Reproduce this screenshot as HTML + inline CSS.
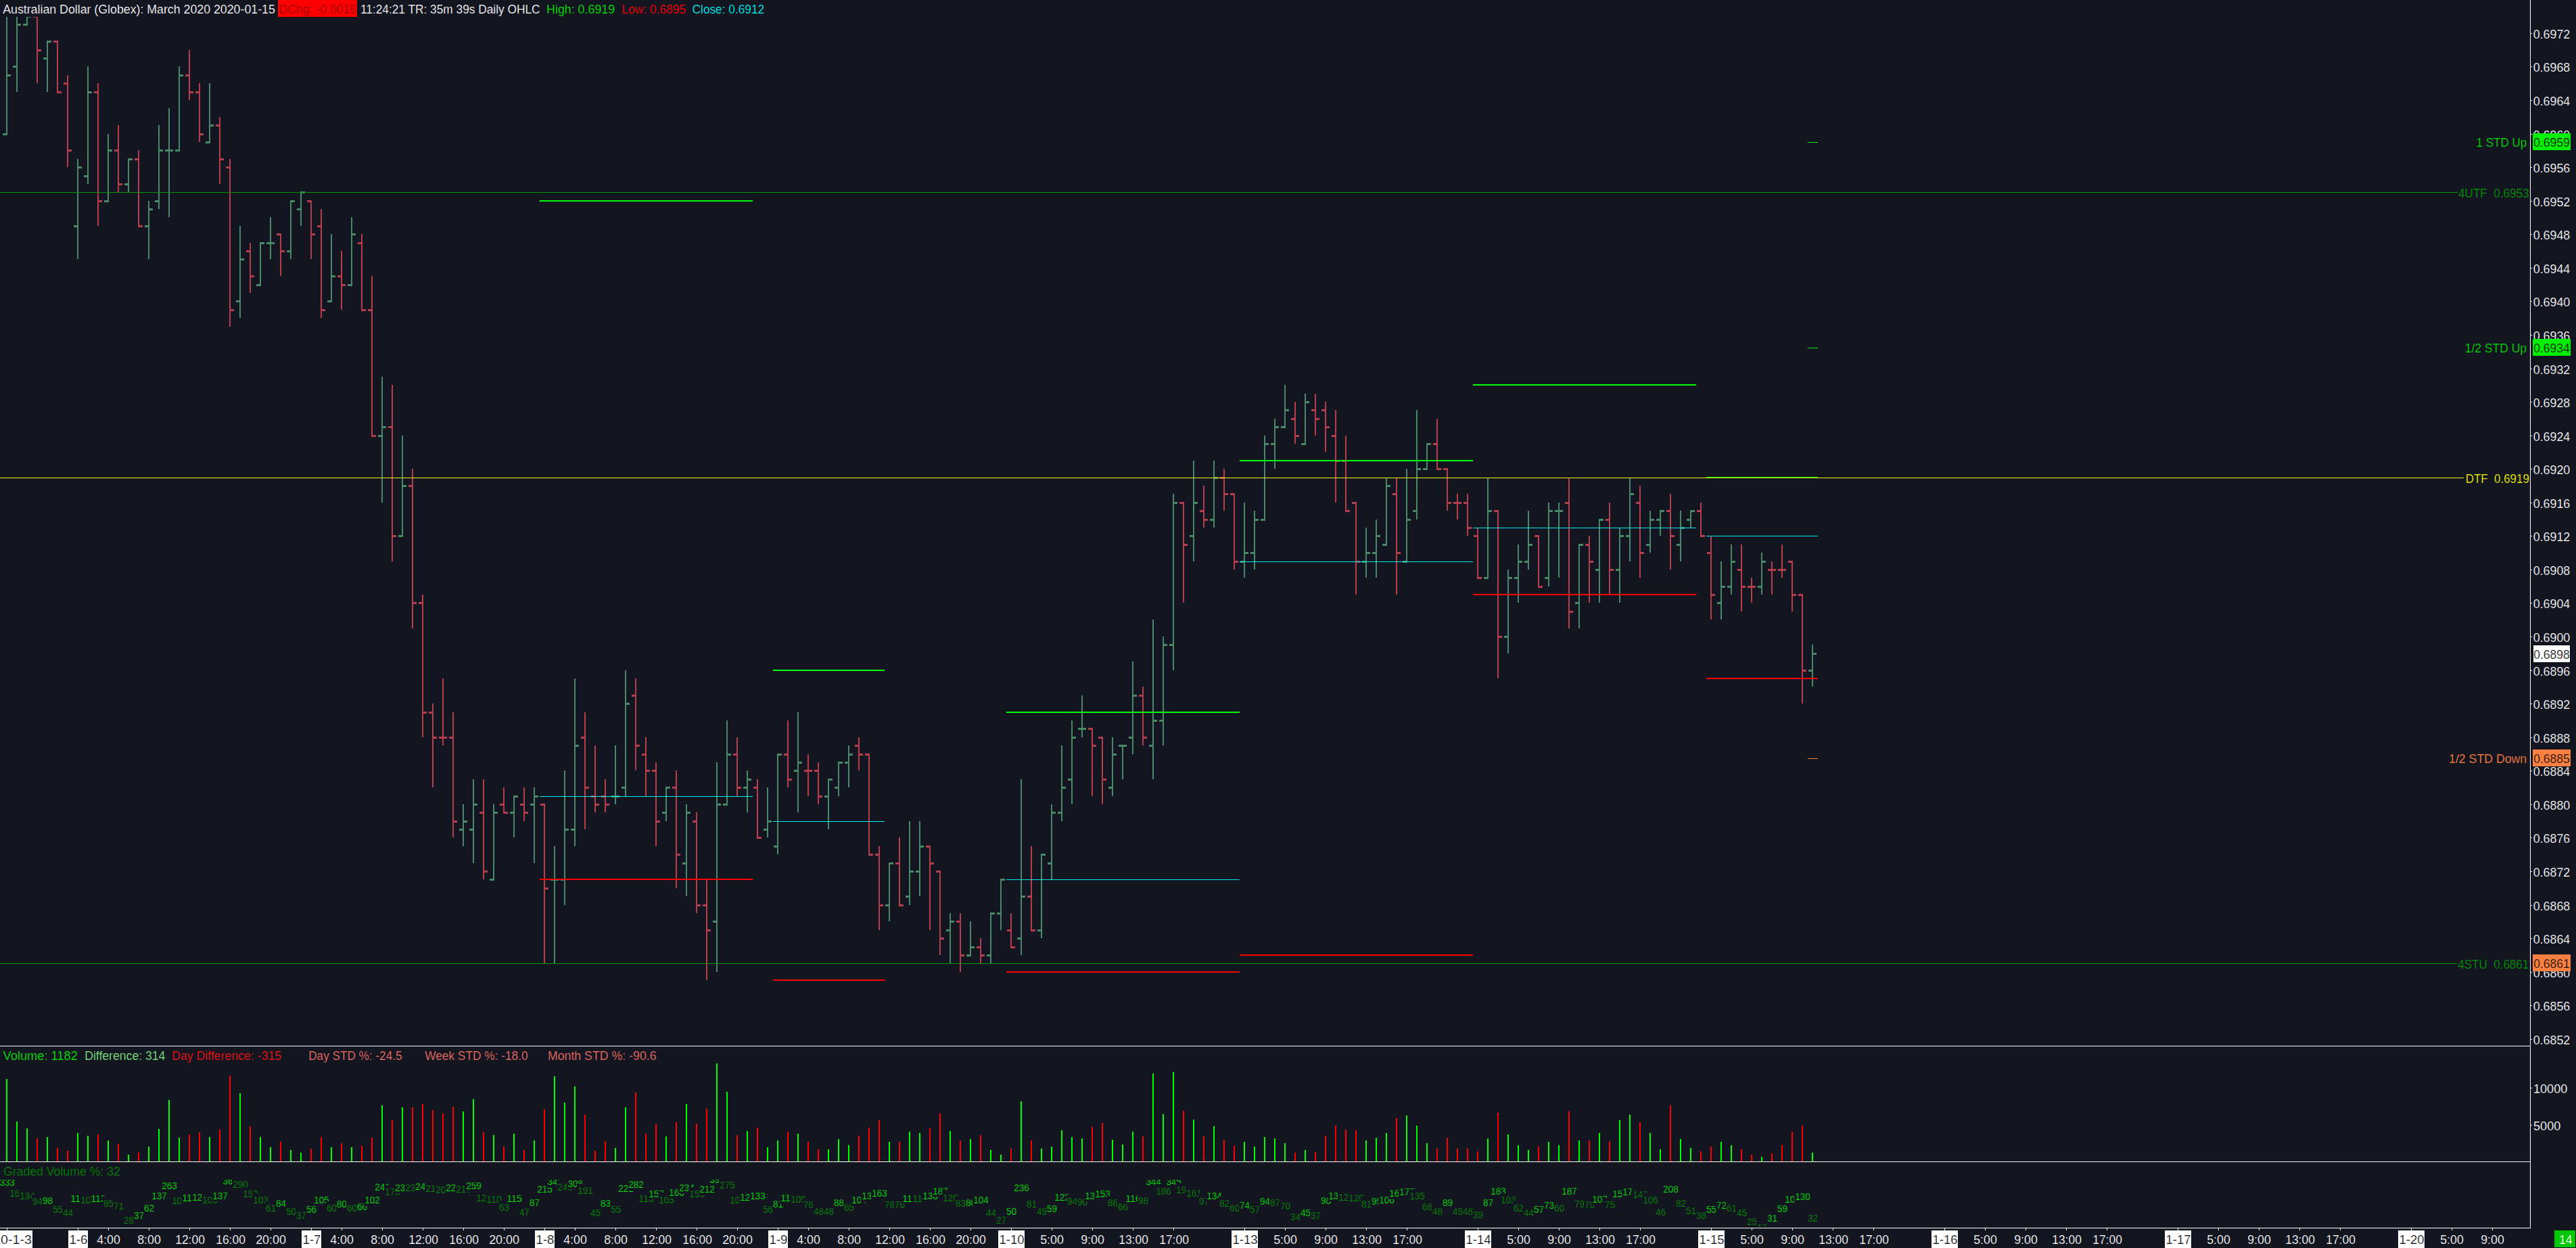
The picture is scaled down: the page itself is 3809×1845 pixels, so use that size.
<!DOCTYPE html><html><head><meta charset="utf-8"><title>chart</title><style>html,body{margin:0;padding:0;background:#131521;overflow:hidden}svg text{white-space:pre}</style></head><body><svg width="3809" height="1845" viewBox="0 0 3809 1845" font-family="Liberation Sans, sans-serif" shape-rendering="crispEdges" style="display:block">
<defs><clipPath id="cp"><rect x="0" y="25" width="3741" height="1521"/></clipPath><clipPath id="cg"><rect x="0" y="1744" width="3741" height="70"/></clipPath></defs>
<rect x="0" y="0" width="3809" height="1845" fill="#131521"/>
<g clip-path="url(#cp)">
<path d="M9 -1h2V198h-2zM4 197h7v3h-7zM9 110h7v3h-7zM24 -1h2V136h-2zM19 97h7v3h-7zM24 35h7v3h-7zM39 24h2V36h-2zM34 35h7v3h-7zM39 23h7v3h-7zM69 61h2V136h-2zM64 85h7v3h-7zM69 60h7v3h-7zM114 235h2V383h-2zM109 333h7v3h-7zM114 246h7v3h-7zM129 98h2V272h-2zM124 259h7v3h-7zM129 135h7v3h-7zM159 198h2V297h-2zM154 296h7v3h-7zM159 221h7v3h-7zM189 235h2V284h-2zM184 271h7v3h-7zM189 234h7v3h-7zM219 297h2V383h-2zM214 333h7v3h-7zM219 308h7v3h-7zM234 185h2V309h-2zM229 296h7v3h-7zM234 221h7v3h-7zM249 160h2V321h-2zM244 221h7v3h-7zM249 221h7v3h-7zM264 98h2V222h-2zM259 221h7v3h-7zM264 110h7v3h-7zM309 123h2V210h-2zM304 209h7v3h-7zM309 184h7v3h-7zM354 334h2V470h-2zM349 444h7v3h-7zM354 382h7v3h-7zM384 359h2V421h-2zM379 420h7v3h-7zM384 358h7v3h-7zM399 321h2V383h-2zM394 358h7v3h-7zM399 358h7v3h-7zM429 297h2V383h-2zM424 370h7v3h-7zM429 296h7v3h-7zM444 284h2V334h-2zM439 308h7v3h-7zM444 283h7v3h-7zM489 346h2V445h-2zM484 444h7v3h-7zM489 407h7v3h-7zM519 321h2V421h-2zM514 420h7v3h-7zM519 345h7v3h-7zM564 557h2V743h-2zM559 643h7v3h-7zM564 630h7v3h-7zM594 644h2V792h-2zM589 791h7v3h-7zM594 717h7v3h-7zM684 1189h2V1251h-2zM679 1225h7v3h-7zM684 1213h7v3h-7zM699 1152h2V1276h-2zM694 1225h7v3h-7zM699 1188h7v3h-7zM729 1189h2V1300h-2zM724 1299h7v3h-7zM729 1200h7v3h-7zM759 1177h2V1238h-2zM754 1200h7v3h-7zM759 1176h7v3h-7zM789 1164h2V1276h-2zM784 1188h7v3h-7zM789 1176h7v3h-7zM819 1251h2V1424h-2zM814 1299h7v3h-7zM819 1299h7v3h-7zM834 1139h2V1338h-2zM829 1299h7v3h-7zM834 1225h7v3h-7zM849 1003h2V1251h-2zM844 1225h7v3h-7zM849 1101h7v3h-7zM909 1102h2V1189h-2zM904 1176h7v3h-7zM909 1176h7v3h-7zM924 991h2V1177h-2zM919 1163h7v3h-7zM924 1039h7v3h-7zM984 1164h2V1214h-2zM979 1200h7v3h-7zM984 1163h7v3h-7zM1014 1189h2V1325h-2zM1009 1275h7v3h-7zM1014 1200h7v3h-7zM1059 1127h2V1437h-2zM1054 1361h7v3h-7zM1059 1188h7v3h-7zM1074 1065h2V1189h-2zM1069 1188h7v3h-7zM1074 1114h7v3h-7zM1104 1139h2V1201h-2zM1099 1163h7v3h-7zM1104 1151h7v3h-7zM1134 1164h2V1238h-2zM1129 1225h7v3h-7zM1134 1213h7v3h-7zM1149 1115h2V1263h-2zM1144 1250h7v3h-7zM1149 1114h7v3h-7zM1179 1053h2V1201h-2zM1174 1138h7v3h-7zM1179 1126h7v3h-7zM1224 1152h2V1226h-2zM1219 1176h7v3h-7zM1224 1151h7v3h-7zM1239 1127h2V1177h-2zM1234 1163h7v3h-7zM1239 1126h7v3h-7zM1254 1102h2V1164h-2zM1249 1126h7v3h-7zM1254 1114h7v3h-7zM1314 1276h2V1362h-2zM1309 1337h7v3h-7zM1314 1275h7v3h-7zM1344 1214h2V1338h-2zM1339 1324h7v3h-7zM1344 1287h7v3h-7zM1359 1214h2V1325h-2zM1354 1287h7v3h-7zM1359 1250h7v3h-7zM1404 1350h2V1424h-2zM1399 1374h7v3h-7zM1404 1361h7v3h-7zM1434 1362h2V1412h-2zM1429 1411h7v3h-7zM1434 1399h7v3h-7zM1464 1350h2V1424h-2zM1459 1411h7v3h-7zM1464 1349h7v3h-7zM1479 1300h2V1375h-2zM1474 1349h7v3h-7zM1479 1299h7v3h-7zM1509 1152h2V1412h-2zM1504 1386h7v3h-7zM1509 1324h7v3h-7zM1539 1263h2V1387h-2zM1534 1374h7v3h-7zM1539 1262h7v3h-7zM1554 1189h2V1300h-2zM1549 1275h7v3h-7zM1554 1200h7v3h-7zM1569 1102h2V1214h-2zM1564 1200h7v3h-7zM1569 1163h7v3h-7zM1584 1065h2V1189h-2zM1579 1151h7v3h-7zM1584 1089h7v3h-7zM1599 1028h2V1090h-2zM1594 1076h7v3h-7zM1599 1076h7v3h-7zM1644 1090h2V1177h-2zM1639 1163h7v3h-7zM1644 1114h7v3h-7zM1659 1102h2V1152h-2zM1654 1101h7v3h-7zM1659 1101h7v3h-7zM1674 978h2V1115h-2zM1669 1089h7v3h-7zM1674 1027h7v3h-7zM1704 916h2V1152h-2zM1699 1101h7v3h-7zM1704 1064h7v3h-7zM1719 941h2V1102h-2zM1714 1064h7v3h-7zM1719 952h7v3h-7zM1734 730h2V991h-2zM1729 952h7v3h-7zM1734 742h7v3h-7zM1764 681h2V830h-2zM1759 791h7v3h-7zM1764 742h7v3h-7zM1794 681h2V780h-2zM1789 767h7v3h-7zM1794 705h7v3h-7zM1839 743h2V854h-2zM1834 829h7v3h-7zM1839 816h7v3h-7zM1854 755h2V842h-2zM1849 816h7v3h-7zM1854 767h7v3h-7zM1869 644h2V768h-2zM1864 767h7v3h-7zM1869 655h7v3h-7zM1884 619h2V693h-2zM1879 655h7v3h-7zM1884 630h7v3h-7zM1899 569h2V631h-2zM1894 630h7v3h-7zM1899 605h7v3h-7zM1929 582h2V656h-2zM1924 655h7v3h-7zM1929 593h7v3h-7zM2019 780h2V854h-2zM2014 829h7v3h-7zM2019 816h7v3h-7zM2034 768h2V854h-2zM2029 816h7v3h-7zM2034 791h7v3h-7zM2049 706h2V805h-2zM2044 804h7v3h-7zM2049 717h7v3h-7zM2079 693h2V830h-2zM2074 829h7v3h-7zM2079 767h7v3h-7zM2094 606h2V768h-2zM2089 754h7v3h-7zM2094 692h7v3h-7zM2109 656h2V693h-2zM2104 692h7v3h-7zM2109 655h7v3h-7zM2199 706h2V854h-2zM2194 853h7v3h-7zM2199 754h7v3h-7zM2229 842h2V966h-2zM2224 940h7v3h-7zM2229 853h7v3h-7zM2244 805h2V891h-2zM2239 853h7v3h-7zM2244 829h7v3h-7zM2259 755h2V842h-2zM2254 829h7v3h-7zM2259 804h7v3h-7zM2289 743h2V867h-2zM2284 853h7v3h-7zM2289 754h7v3h-7zM2304 743h2V854h-2zM2299 754h7v3h-7zM2304 754h7v3h-7zM2334 805h2V929h-2zM2329 890h7v3h-7zM2334 804h7v3h-7zM2364 768h2V891h-2zM2359 841h7v3h-7zM2364 767h7v3h-7zM2394 780h2V891h-2zM2389 841h7v3h-7zM2394 791h7v3h-7zM2409 706h2V830h-2zM2404 791h7v3h-7zM2409 729h7v3h-7zM2439 755h2V817h-2zM2434 804h7v3h-7zM2439 767h7v3h-7zM2454 755h2V792h-2zM2449 767h7v3h-7zM2454 754h7v3h-7zM2484 755h2V830h-2zM2479 804h7v3h-7zM2484 779h7v3h-7zM2499 755h2V780h-2zM2494 767h7v3h-7zM2499 754h7v3h-7zM2544 830h2V916h-2zM2539 890h7v3h-7zM2544 866h7v3h-7zM2559 805h2V879h-2zM2554 866h7v3h-7zM2559 829h7v3h-7zM2604 817h2V879h-2zM2599 866h7v3h-7zM2604 829h7v3h-7zM2679 953h2V1015h-2zM2674 990h7v3h-7zM2679 965h7v3h-7z" fill="#488968"/>
<path d="M54 24h2V123h-2zM49 23h7v3h-7zM54 73h7v3h-7zM84 61h2V136h-2zM79 60h7v3h-7zM84 135h7v3h-7zM99 111h2V247h-2zM94 122h7v3h-7zM99 221h7v3h-7zM144 123h2V334h-2zM139 135h7v3h-7zM144 296h7v3h-7zM174 185h2V284h-2zM169 221h7v3h-7zM174 271h7v3h-7zM204 222h2V334h-2zM199 234h7v3h-7zM204 333h7v3h-7zM279 74h2V148h-2zM274 110h7v3h-7zM279 135h7v3h-7zM294 123h2V210h-2zM289 135h7v3h-7zM294 197h7v3h-7zM324 173h2V272h-2zM319 184h7v3h-7zM324 234h7v3h-7zM339 235h2V483h-2zM334 246h7v3h-7zM339 457h7v3h-7zM369 359h2V433h-2zM364 370h7v3h-7zM369 407h7v3h-7zM414 346h2V408h-2zM409 345h7v3h-7zM414 370h7v3h-7zM459 297h2V383h-2zM454 296h7v3h-7zM459 345h7v3h-7zM474 309h2V470h-2zM469 333h7v3h-7zM474 457h7v3h-7zM504 371h2V458h-2zM499 407h7v3h-7zM504 420h7v3h-7zM534 346h2V458h-2zM529 358h7v3h-7zM534 457h7v3h-7zM549 408h2V644h-2zM544 457h7v3h-7zM549 643h7v3h-7zM579 569h2V830h-2zM574 630h7v3h-7zM579 791h7v3h-7zM609 693h2V929h-2zM604 717h7v3h-7zM609 890h7v3h-7zM624 879h2V1090h-2zM619 890h7v3h-7zM624 1052h7v3h-7zM639 1040h2V1164h-2zM634 1052h7v3h-7zM639 1089h7v3h-7zM654 1003h2V1102h-2zM649 1089h7v3h-7zM654 1089h7v3h-7zM669 1053h2V1238h-2zM664 1089h7v3h-7zM669 1213h7v3h-7zM714 1152h2V1300h-2zM709 1200h7v3h-7zM714 1287h7v3h-7zM744 1164h2V1201h-2zM739 1188h7v3h-7zM744 1200h7v3h-7zM774 1164h2V1214h-2zM769 1188h7v3h-7zM774 1200h7v3h-7zM804 1189h2V1424h-2zM799 1188h7v3h-7zM804 1312h7v3h-7zM864 1053h2V1226h-2zM859 1089h7v3h-7zM864 1163h7v3h-7zM879 1102h2V1201h-2zM874 1176h7v3h-7zM879 1188h7v3h-7zM894 1152h2V1201h-2zM889 1176h7v3h-7zM894 1188h7v3h-7zM939 1003h2V1139h-2zM934 1027h7v3h-7zM939 1101h7v3h-7zM954 1090h2V1177h-2zM949 1114h7v3h-7zM954 1138h7v3h-7zM969 1127h2V1251h-2zM964 1138h7v3h-7zM969 1213h7v3h-7zM999 1139h2V1313h-2zM994 1163h7v3h-7zM999 1262h7v3h-7zM1029 1201h2V1350h-2zM1024 1213h7v3h-7zM1029 1337h7v3h-7zM1044 1300h2V1449h-2zM1039 1337h7v3h-7zM1044 1374h7v3h-7zM1089 1090h2V1177h-2zM1084 1114h7v3h-7zM1089 1163h7v3h-7zM1119 1152h2V1238h-2zM1114 1163h7v3h-7zM1119 1237h7v3h-7zM1164 1065h2V1164h-2zM1159 1114h7v3h-7zM1164 1151h7v3h-7zM1194 1115h2V1177h-2zM1189 1138h7v3h-7zM1194 1138h7v3h-7zM1209 1127h2V1189h-2zM1204 1138h7v3h-7zM1209 1176h7v3h-7zM1269 1090h2V1139h-2zM1264 1101h7v3h-7zM1269 1114h7v3h-7zM1284 1115h2V1263h-2zM1279 1114h7v3h-7zM1284 1262h7v3h-7zM1299 1251h2V1375h-2zM1294 1262h7v3h-7zM1299 1337h7v3h-7zM1329 1238h2V1338h-2zM1324 1275h7v3h-7zM1329 1337h7v3h-7zM1374 1251h2V1375h-2zM1369 1250h7v3h-7zM1374 1275h7v3h-7zM1389 1288h2V1412h-2zM1384 1287h7v3h-7zM1389 1386h7v3h-7zM1419 1350h2V1437h-2zM1414 1361h7v3h-7zM1419 1411h7v3h-7zM1449 1387h2V1424h-2zM1444 1399h7v3h-7zM1449 1411h7v3h-7zM1494 1350h2V1400h-2zM1489 1374h7v3h-7zM1494 1399h7v3h-7zM1524 1251h2V1375h-2zM1519 1324h7v3h-7zM1524 1374h7v3h-7zM1614 1077h2V1177h-2zM1609 1076h7v3h-7zM1614 1101h7v3h-7zM1629 1090h2V1189h-2zM1624 1089h7v3h-7zM1629 1151h7v3h-7zM1689 1015h2V1102h-2zM1684 1027h7v3h-7zM1689 1089h7v3h-7zM1749 743h2V891h-2zM1744 742h7v3h-7zM1749 804h7v3h-7zM1779 718h2V780h-2zM1774 754h7v3h-7zM1779 767h7v3h-7zM1809 693h2V755h-2zM1804 705h7v3h-7zM1809 729h7v3h-7zM1824 730h2V842h-2zM1819 729h7v3h-7zM1824 829h7v3h-7zM1914 594h2V656h-2zM1909 618h7v3h-7zM1914 643h7v3h-7zM1944 582h2V644h-2zM1939 605h7v3h-7zM1944 618h7v3h-7zM1959 594h2V668h-2zM1954 605h7v3h-7zM1959 630h7v3h-7zM1974 606h2V743h-2zM1969 643h7v3h-7zM1974 680h7v3h-7zM1989 644h2V755h-2zM1984 680h7v3h-7zM1989 754h7v3h-7zM2004 743h2V879h-2zM1999 742h7v3h-7zM2004 829h7v3h-7zM2064 706h2V879h-2zM2059 729h7v3h-7zM2064 816h7v3h-7zM2124 619h2V693h-2zM2119 655h7v3h-7zM2124 692h7v3h-7zM2139 693h2V755h-2zM2134 692h7v3h-7zM2139 742h7v3h-7zM2154 730h2V768h-2zM2149 742h7v3h-7zM2154 742h7v3h-7zM2169 730h2V792h-2zM2164 742h7v3h-7zM2169 779h7v3h-7zM2184 780h2V854h-2zM2179 791h7v3h-7zM2184 853h7v3h-7zM2214 755h2V1003h-2zM2209 754h7v3h-7zM2214 940h7v3h-7zM2274 792h2V867h-2zM2269 791h7v3h-7zM2274 866h7v3h-7zM2319 706h2V929h-2zM2314 742h7v3h-7zM2319 903h7v3h-7zM2349 792h2V891h-2zM2344 804h7v3h-7zM2349 829h7v3h-7zM2379 743h2V879h-2zM2374 767h7v3h-7zM2379 841h7v3h-7zM2424 718h2V854h-2zM2419 742h7v3h-7zM2424 816h7v3h-7zM2469 730h2V842h-2zM2464 754h7v3h-7zM2469 791h7v3h-7zM2514 743h2V792h-2zM2509 754h7v3h-7zM2514 791h7v3h-7zM2529 792h2V916h-2zM2524 816h7v3h-7zM2529 878h7v3h-7zM2574 805h2V904h-2zM2569 841h7v3h-7zM2574 866h7v3h-7zM2589 854h2V891h-2zM2584 866h7v3h-7zM2589 866h7v3h-7zM2619 830h2V879h-2zM2614 841h7v3h-7zM2619 841h7v3h-7zM2634 805h2V854h-2zM2629 841h7v3h-7zM2634 841h7v3h-7zM2649 830h2V904h-2zM2644 829h7v3h-7zM2649 878h7v3h-7zM2664 879h2V1040h-2zM2659 878h7v3h-7zM2664 990h7v3h-7z" fill="#b63e4c"/>
<rect x="798" y="296" width="315" height="2" fill="#00ff00"/>
<rect x="798" y="1177" width="315" height="1" fill="#00f0f0"/>
<rect x="798" y="1299" width="315" height="2" fill="#ff0000"/>
<rect x="1143" y="990" width="165" height="2" fill="#00ff00"/>
<rect x="1143" y="1214" width="165" height="1" fill="#00f0f0"/>
<rect x="1143" y="1448" width="165" height="2" fill="#ff0000"/>
<rect x="1488" y="1052" width="345" height="2" fill="#00ff00"/>
<rect x="1488" y="1300" width="345" height="1" fill="#00f0f0"/>
<rect x="1488" y="1436" width="345" height="2" fill="#ff0000"/>
<rect x="1833" y="680" width="345" height="2" fill="#00ff00"/>
<rect x="1833" y="830" width="345" height="1" fill="#00f0f0"/>
<rect x="1833" y="1411" width="345" height="2" fill="#ff0000"/>
<rect x="2178" y="568" width="330" height="2" fill="#00ff00"/>
<rect x="2178" y="780" width="330" height="1" fill="#00f0f0"/>
<rect x="2178" y="878" width="330" height="2" fill="#ff0000"/>
<rect x="2523" y="705" width="165" height="2" fill="#00ff00"/>
<rect x="2523" y="792" width="165" height="1" fill="#00f0f0"/>
<rect x="2523" y="1002" width="165" height="2" fill="#ff0000"/>
<rect x="0" y="284" width="3634" height="1" fill="#009600"/>
<rect x="0" y="1424" width="3634" height="1" fill="#009600"/>
<rect x="0" y="706" width="3643" height="1" fill="#f4f400"/>
<rect x="2673" y="210" width="15" height="1" fill="#00f000"/>
<rect x="2673" y="514" width="15" height="1" fill="#00f000"/>
<rect x="2673" y="1121" width="15" height="1" fill="#ff8040"/>
</g>
<text x="4.2" y="20.0" font-size="19" fill="#fff" textLength="402.6" lengthAdjust="spacingAndGlyphs" stroke="#131521" stroke-width="0.2">Australian Dollar (Globex): March 2020 2020-01-15</text>
<rect x="411" y="0" width="117" height="25" fill="#ff0000"/>
<text x="412.6" y="20.0" font-size="19" fill="#960000" textLength="114.6" lengthAdjust="spacingAndGlyphs" stroke="#ff0000" stroke-width="0.2">DChg: -0.0016</text>
<text x="532.9" y="20.0" font-size="19" fill="#fff" textLength="265.6" lengthAdjust="spacingAndGlyphs" stroke="#131521" stroke-width="0.2">11:24:21 TR: 35m 39s Daily OHLC</text>
<text x="808.1" y="20.0" font-size="19" fill="#00e600" textLength="101.0" lengthAdjust="spacingAndGlyphs" stroke="#131521" stroke-width="0.2">High: 0.6919</text>
<text x="919.6" y="20.0" font-size="19" fill="#ff0000" textLength="94.6" lengthAdjust="spacingAndGlyphs" stroke="#131521" stroke-width="0.2">Low: 0.6895</text>
<text x="1023.6" y="20.0" font-size="19" fill="#00f0f0" textLength="106.5" lengthAdjust="spacingAndGlyphs" stroke="#131521" stroke-width="0.2">Close: 0.6912</text>
<text x="3661.5" y="217.0" font-size="19" fill="#00dc00" textLength="74.7" lengthAdjust="spacingAndGlyphs" stroke="#131521" stroke-width="0.2">1 STD Up</text>
<text x="3635.1" y="292.0" font-size="19" fill="#009600" textLength="104.4" lengthAdjust="spacingAndGlyphs" stroke="#131521" stroke-width="0.2">4UTF  0.6953</text>
<text x="3644.7" y="521.0" font-size="19" fill="#00dc00" textLength="91.4" lengthAdjust="spacingAndGlyphs" stroke="#131521" stroke-width="0.2">1/2 STD Up</text>
<text x="3645.8" y="714.0" font-size="19" fill="#f4f400" textLength="94.0" lengthAdjust="spacingAndGlyphs" stroke="#131521" stroke-width="0.2">DTF  0.6919</text>
<text x="3621.1" y="1127.7" font-size="19" fill="#ff8040" textLength="115.1" lengthAdjust="spacingAndGlyphs" stroke="#131521" stroke-width="0.2">1/2 STD Down</text>
<text x="3634.2" y="1431.5" font-size="19" fill="#009600" textLength="105.1" lengthAdjust="spacingAndGlyphs" stroke="#131521" stroke-width="0.2">4STU  0.6861</text>
<rect x="3741" y="0" width="1" height="1816" fill="#fff"/>
<rect x="0" y="1546" width="3741" height="1" fill="#fff"/>
<rect x="0" y="1717" width="3741" height="1" fill="#fff"/>
<rect x="0" y="1815" width="3741" height="1" fill="#fff"/>
<rect x="3742" y="49" width="2" height="1" fill="#fff"/>
<text x="3745.7" y="57.0" font-size="19" fill="#fff" textLength="54.6" lengthAdjust="spacingAndGlyphs" stroke="#131521" stroke-width="0.2">0.6972</text>
<rect x="3742" y="98" width="2" height="1" fill="#fff"/>
<text x="3745.7" y="106.0" font-size="19" fill="#fff" textLength="54.6" lengthAdjust="spacingAndGlyphs" stroke="#131521" stroke-width="0.2">0.6968</text>
<rect x="3742" y="148" width="2" height="1" fill="#fff"/>
<text x="3745.7" y="156.0" font-size="19" fill="#fff" textLength="54.6" lengthAdjust="spacingAndGlyphs" stroke="#131521" stroke-width="0.2">0.6964</text>
<rect x="3742" y="198" width="2" height="1" fill="#fff"/>
<text x="3745.7" y="206.0" font-size="19" fill="#fff" textLength="54.6" lengthAdjust="spacingAndGlyphs" stroke="#131521" stroke-width="0.2">0.6960</text>
<rect x="3742" y="247" width="2" height="1" fill="#fff"/>
<text x="3745.7" y="255.0" font-size="19" fill="#fff" textLength="54.6" lengthAdjust="spacingAndGlyphs" stroke="#131521" stroke-width="0.2">0.6956</text>
<rect x="3742" y="297" width="2" height="1" fill="#fff"/>
<text x="3745.7" y="305.0" font-size="19" fill="#fff" textLength="54.6" lengthAdjust="spacingAndGlyphs" stroke="#131521" stroke-width="0.2">0.6952</text>
<rect x="3742" y="346" width="2" height="1" fill="#fff"/>
<text x="3745.7" y="354.0" font-size="19" fill="#fff" textLength="54.6" lengthAdjust="spacingAndGlyphs" stroke="#131521" stroke-width="0.2">0.6948</text>
<rect x="3742" y="396" width="2" height="1" fill="#fff"/>
<text x="3745.7" y="404.0" font-size="19" fill="#fff" textLength="54.6" lengthAdjust="spacingAndGlyphs" stroke="#131521" stroke-width="0.2">0.6944</text>
<rect x="3742" y="445" width="2" height="1" fill="#fff"/>
<text x="3745.7" y="453.0" font-size="19" fill="#fff" textLength="54.6" lengthAdjust="spacingAndGlyphs" stroke="#131521" stroke-width="0.2">0.6940</text>
<rect x="3742" y="495" width="2" height="1" fill="#fff"/>
<text x="3745.7" y="503.0" font-size="19" fill="#fff" textLength="54.6" lengthAdjust="spacingAndGlyphs" stroke="#131521" stroke-width="0.2">0.6936</text>
<rect x="3742" y="545" width="2" height="1" fill="#fff"/>
<text x="3745.7" y="553.0" font-size="19" fill="#fff" textLength="54.6" lengthAdjust="spacingAndGlyphs" stroke="#131521" stroke-width="0.2">0.6932</text>
<rect x="3742" y="594" width="2" height="1" fill="#fff"/>
<text x="3745.7" y="602.0" font-size="19" fill="#fff" textLength="54.6" lengthAdjust="spacingAndGlyphs" stroke="#131521" stroke-width="0.2">0.6928</text>
<rect x="3742" y="644" width="2" height="1" fill="#fff"/>
<text x="3745.7" y="652.0" font-size="19" fill="#fff" textLength="54.6" lengthAdjust="spacingAndGlyphs" stroke="#131521" stroke-width="0.2">0.6924</text>
<rect x="3742" y="693" width="2" height="1" fill="#fff"/>
<text x="3745.7" y="701.0" font-size="19" fill="#fff" textLength="54.6" lengthAdjust="spacingAndGlyphs" stroke="#131521" stroke-width="0.2">0.6920</text>
<rect x="3742" y="743" width="2" height="1" fill="#fff"/>
<text x="3745.7" y="751.0" font-size="19" fill="#fff" textLength="54.6" lengthAdjust="spacingAndGlyphs" stroke="#131521" stroke-width="0.2">0.6916</text>
<rect x="3742" y="792" width="2" height="1" fill="#fff"/>
<text x="3745.7" y="800.0" font-size="19" fill="#fff" textLength="54.6" lengthAdjust="spacingAndGlyphs" stroke="#131521" stroke-width="0.2">0.6912</text>
<rect x="3742" y="842" width="2" height="1" fill="#fff"/>
<text x="3745.7" y="850.0" font-size="19" fill="#fff" textLength="54.6" lengthAdjust="spacingAndGlyphs" stroke="#131521" stroke-width="0.2">0.6908</text>
<rect x="3742" y="891" width="2" height="1" fill="#fff"/>
<text x="3745.7" y="899.0" font-size="19" fill="#fff" textLength="54.6" lengthAdjust="spacingAndGlyphs" stroke="#131521" stroke-width="0.2">0.6904</text>
<rect x="3742" y="941" width="2" height="1" fill="#fff"/>
<text x="3745.7" y="949.0" font-size="19" fill="#fff" textLength="54.6" lengthAdjust="spacingAndGlyphs" stroke="#131521" stroke-width="0.2">0.6900</text>
<rect x="3742" y="991" width="2" height="1" fill="#fff"/>
<text x="3745.7" y="999.0" font-size="19" fill="#fff" textLength="54.6" lengthAdjust="spacingAndGlyphs" stroke="#131521" stroke-width="0.2">0.6896</text>
<rect x="3742" y="1040" width="2" height="1" fill="#fff"/>
<text x="3745.7" y="1048.0" font-size="19" fill="#fff" textLength="54.6" lengthAdjust="spacingAndGlyphs" stroke="#131521" stroke-width="0.2">0.6892</text>
<rect x="3742" y="1090" width="2" height="1" fill="#fff"/>
<text x="3745.7" y="1098.0" font-size="19" fill="#fff" textLength="54.6" lengthAdjust="spacingAndGlyphs" stroke="#131521" stroke-width="0.2">0.6888</text>
<rect x="3742" y="1139" width="2" height="1" fill="#fff"/>
<text x="3745.7" y="1147.0" font-size="19" fill="#fff" textLength="54.6" lengthAdjust="spacingAndGlyphs" stroke="#131521" stroke-width="0.2">0.6884</text>
<rect x="3742" y="1189" width="2" height="1" fill="#fff"/>
<text x="3745.7" y="1197.0" font-size="19" fill="#fff" textLength="54.6" lengthAdjust="spacingAndGlyphs" stroke="#131521" stroke-width="0.2">0.6880</text>
<rect x="3742" y="1238" width="2" height="1" fill="#fff"/>
<text x="3745.7" y="1246.0" font-size="19" fill="#fff" textLength="54.6" lengthAdjust="spacingAndGlyphs" stroke="#131521" stroke-width="0.2">0.6876</text>
<rect x="3742" y="1288" width="2" height="1" fill="#fff"/>
<text x="3745.7" y="1296.0" font-size="19" fill="#fff" textLength="54.6" lengthAdjust="spacingAndGlyphs" stroke="#131521" stroke-width="0.2">0.6872</text>
<rect x="3742" y="1338" width="2" height="1" fill="#fff"/>
<text x="3745.7" y="1346.0" font-size="19" fill="#fff" textLength="54.6" lengthAdjust="spacingAndGlyphs" stroke="#131521" stroke-width="0.2">0.6868</text>
<rect x="3742" y="1387" width="2" height="1" fill="#fff"/>
<text x="3745.7" y="1395.0" font-size="19" fill="#fff" textLength="54.6" lengthAdjust="spacingAndGlyphs" stroke="#131521" stroke-width="0.2">0.6864</text>
<rect x="3742" y="1437" width="2" height="1" fill="#fff"/>
<text x="3745.7" y="1445.0" font-size="19" fill="#fff" textLength="54.6" lengthAdjust="spacingAndGlyphs" stroke="#131521" stroke-width="0.2">0.6860</text>
<rect x="3742" y="1486" width="2" height="1" fill="#fff"/>
<text x="3745.7" y="1494.0" font-size="19" fill="#fff" textLength="54.6" lengthAdjust="spacingAndGlyphs" stroke="#131521" stroke-width="0.2">0.6856</text>
<rect x="3742" y="1536" width="2" height="1" fill="#fff"/>
<text x="3745.7" y="1544.0" font-size="19" fill="#fff" textLength="54.6" lengthAdjust="spacingAndGlyphs" stroke="#131521" stroke-width="0.2">0.6852</text>
<rect x="3742" y="1608" width="2" height="1" fill="#fff"/>
<rect x="3742" y="1663" width="2" height="1" fill="#fff"/>
<text x="3746.0" y="1616.0" font-size="19" fill="#fff" textLength="50.3" lengthAdjust="spacingAndGlyphs" stroke="#131521" stroke-width="0.2">10000</text>
<text x="3746.0" y="1671.0" font-size="19" fill="#fff" textLength="40.3" lengthAdjust="spacingAndGlyphs" stroke="#131521" stroke-width="0.2">5000</text>
<rect x="3745" y="197" width="56" height="25" fill="#00f000"/>
<text x="3746.2" y="216.5" font-size="19" fill="#101010" textLength="53.6" lengthAdjust="spacingAndGlyphs" stroke="#00f000" stroke-width="0.2">0.6959</text>
<rect x="3745" y="501" width="56" height="25" fill="#00f000"/>
<text x="3746.2" y="520.5" font-size="19" fill="#101010" textLength="53.6" lengthAdjust="spacingAndGlyphs" stroke="#00f000" stroke-width="0.2">0.6934</text>
<rect x="3745" y="1108" width="56" height="25" fill="#ff8040"/>
<text x="3746.2" y="1127.5" font-size="19" fill="#101010" textLength="53.6" lengthAdjust="spacingAndGlyphs" stroke="#ff8040" stroke-width="0.2">0.6885</text>
<rect x="3745" y="1411" width="56" height="25" fill="#ff8040"/>
<text x="3746.2" y="1430.5" font-size="19" fill="#101010" textLength="53.6" lengthAdjust="spacingAndGlyphs" stroke="#ff8040" stroke-width="0.2">0.6861</text>
<rect x="3745" y="953" width="56" height="27" fill="#05060c"/>
<rect x="3746" y="954" width="54" height="25" fill="#fff"/>
<text x="3746.2" y="973.5" font-size="19" fill="#101010" textLength="53.6" lengthAdjust="spacingAndGlyphs" stroke="#fff" stroke-width="0.2">0.6898</text>
<text x="4.6" y="1566.5" font-size="19" fill="#00e600" textLength="110.2" lengthAdjust="spacingAndGlyphs" stroke="#131521" stroke-width="0.2">Volume: 1182</text>
<text x="125.2" y="1566.5" font-size="19" fill="#80e680" textLength="119.2" lengthAdjust="spacingAndGlyphs" stroke="#131521" stroke-width="0.2">Difference: 314</text>
<text x="254.2" y="1566.5" font-size="19" fill="#f01414" textLength="162.0" lengthAdjust="spacingAndGlyphs" stroke="#131521" stroke-width="0.2">Day Difference: -315</text>
<text x="456.2" y="1566.5" font-size="19" fill="#f07064" textLength="138.3" lengthAdjust="spacingAndGlyphs" stroke="#131521" stroke-width="0.2">Day STD %: -24.5</text>
<text x="628.2" y="1566.5" font-size="19" fill="#f07064" textLength="152.4" lengthAdjust="spacingAndGlyphs" stroke="#131521" stroke-width="0.2">Week STD %: -18.0</text>
<text x="809.9" y="1566.5" font-size="19" fill="#f07064" textLength="160.7" lengthAdjust="spacingAndGlyphs" stroke="#131521" stroke-width="0.2">Month STD %: -90.6</text>
<path d="M9 1595h2v122h-2zM24 1658h2v59h-2zM39 1668h2v49h-2zM69 1681h2v36h-2zM114 1675h2v42h-2zM129 1679h2v38h-2zM159 1686h2v31h-2zM189 1707h2v10h-2zM219 1695h2v22h-2zM234 1669h2v48h-2zM249 1626h2v91h-2zM264 1682h2v35h-2zM309 1681h2v36h-2zM354 1616h2v101h-2zM384 1681h2v36h-2zM399 1696h2v21h-2zM429 1700h2v17h-2zM444 1704h2v13h-2zM489 1696h2v21h-2zM519 1696h2v21h-2zM564 1634h2v83h-2zM594 1637h2v80h-2zM684 1643h2v74h-2zM699 1625h2v92h-2zM729 1678h2v39h-2zM759 1676h2v41h-2zM789 1686h2v31h-2zM819 1591h2v126h-2zM834 1630h2v87h-2zM849 1606h2v111h-2zM909 1697h2v20h-2zM924 1637h2v80h-2zM984 1680h2v37h-2zM1014 1632h2v85h-2zM1059 1572h2v145h-2zM1074 1614h2v103h-2zM1104 1672h2v45h-2zM1134 1696h2v21h-2zM1149 1686h2v31h-2zM1179 1676h2v41h-2zM1224 1699h2v18h-2zM1239 1684h2v33h-2zM1254 1693h2v24h-2zM1314 1688h2v29h-2zM1344 1673h2v44h-2zM1359 1675h2v42h-2zM1404 1672h2v45h-2zM1434 1684h2v33h-2zM1464 1700h2v17h-2zM1479 1707h2v10h-2zM1509 1628h2v89h-2zM1539 1698h2v19h-2zM1554 1695h2v22h-2zM1569 1671h2v46h-2zM1584 1681h2v36h-2zM1599 1683h2v34h-2zM1644 1685h2v32h-2zM1659 1692h2v25h-2zM1674 1673h2v44h-2zM1704 1587h2v130h-2zM1719 1647h2v70h-2zM1734 1585h2v132h-2zM1764 1655h2v62h-2zM1794 1665h2v52h-2zM1839 1688h2v29h-2zM1854 1695h2v22h-2zM1869 1681h2v36h-2zM1884 1683h2v34h-2zM1899 1690h2v27h-2zM1929 1700h2v17h-2zM2019 1686h2v31h-2zM2034 1682h2v35h-2zM2049 1675h2v42h-2zM2079 1649h2v68h-2zM2094 1664h2v53h-2zM2109 1690h2v27h-2zM2199 1683h2v34h-2zM2229 1677h2v40h-2zM2244 1693h2v24h-2zM2259 1700h2v17h-2zM2289 1688h2v29h-2zM2304 1693h2v24h-2zM2334 1686h2v31h-2zM2364 1675h2v42h-2zM2394 1656h2v61h-2zM2409 1648h2v69h-2zM2439 1675h2v42h-2zM2454 1699h2v18h-2zM2484 1684h2v33h-2zM2499 1697h2v20h-2zM2544 1688h2v29h-2zM2559 1693h2v24h-2zM2604 1710h2v7h-2zM2679 1704h2v13h-2z" fill="#00ff00"/>
<path d="M54 1683h2v34h-2zM84 1697h2v20h-2zM99 1701h2v16h-2zM144 1677h2v40h-2zM174 1691h2v26h-2zM204 1704h2v13h-2zM279 1677h2v40h-2zM294 1674h2v43h-2zM324 1670h2v47h-2zM339 1590h2v127h-2zM369 1665h2v52h-2zM414 1688h2v29h-2zM459 1698h2v19h-2zM474 1681h2v36h-2zM504 1690h2v27h-2zM534 1694h2v23h-2zM549 1682h2v35h-2zM579 1656h2v61h-2zM609 1637h2v80h-2zM624 1632h2v85h-2zM639 1641h2v76h-2zM654 1646h2v71h-2zM669 1636h2v81h-2zM714 1674h2v43h-2zM744 1695h2v22h-2zM774 1700h2v17h-2zM804 1640h2v77h-2zM864 1648h2v69h-2zM879 1701h2v16h-2zM894 1687h2v30h-2zM939 1615h2v102h-2zM954 1676h2v41h-2zM969 1662h2v55h-2zM999 1659h2v58h-2zM1029 1661h2v56h-2zM1044 1639h2v78h-2zM1089 1678h2v39h-2zM1119 1667h2v50h-2zM1164 1673h2v44h-2zM1194 1688h2v29h-2zM1209 1699h2v18h-2zM1269 1679h2v38h-2zM1284 1667h2v50h-2zM1299 1656h2v61h-2zM1329 1688h2v29h-2zM1374 1668h2v49h-2zM1389 1646h2v71h-2zM1419 1686h2v31h-2zM1449 1678h2v39h-2zM1494 1698h2v19h-2zM1524 1686h2v31h-2zM1614 1666h2v51h-2zM1629 1660h2v57h-2zM1689 1680h2v37h-2zM1749 1642h2v75h-2zM1779 1680h2v37h-2zM1809 1685h2v32h-2zM1824 1694h2v23h-2zM1914 1704h2v13h-2zM1944 1703h2v14h-2zM1959 1679h2v38h-2zM1974 1664h2v53h-2zM1989 1670h2v47h-2zM2004 1671h2v46h-2zM2064 1653h2v64h-2zM2124 1698h2v19h-2zM2139 1682h2v35h-2zM2154 1698h2v19h-2zM2169 1698h2v19h-2zM2184 1702h2v15h-2zM2214 1645h2v72h-2zM2274 1695h2v22h-2zM2319 1643h2v74h-2zM2349 1686h2v31h-2zM2379 1687h2v30h-2zM2424 1659h2v58h-2zM2469 1634h2v83h-2zM2514 1702h2v15h-2zM2529 1695h2v22h-2zM2574 1699h2v18h-2zM2589 1707h2v10h-2zM2619 1705h2v12h-2zM2634 1693h2v24h-2zM2649 1673h2v44h-2zM2664 1664h2v53h-2z" fill="#ff0000"/>
<text x="5.0" y="1738.0" font-size="19" fill="#008200" textLength="172.8" lengthAdjust="spacingAndGlyphs" stroke="#131521" stroke-width="0.2">Graded Volume %: 32</text>
<g clip-path="url(#cg)">
<rect x="-2" y="1737" width="26" height="19" fill="#131521"/>
<text x="-0.8" y="1752.7" font-size="14" fill="#00f000" textLength="22.6" lengthAdjust="spacingAndGlyphs" stroke="#131521" stroke-width="0.25">333</text>
<rect x="13" y="1753" width="26" height="19" fill="#131521"/>
<text x="14.2" y="1768.5" font-size="14" fill="#009400" textLength="22.6" lengthAdjust="spacingAndGlyphs" stroke="#131521" stroke-width="0.25">165</text>
<rect x="28" y="1758" width="26" height="19" fill="#131521"/>
<text x="29.2" y="1773.2" font-size="14" fill="#009400" textLength="22.6" lengthAdjust="spacingAndGlyphs" stroke="#131521" stroke-width="0.25">134</text>
<rect x="47" y="1766" width="18" height="19" fill="#131521"/>
<text x="48.0" y="1781.2" font-size="14" fill="#009400" textLength="15.1" lengthAdjust="spacingAndGlyphs" stroke="#131521" stroke-width="0.25">94</text>
<rect x="62" y="1765" width="18" height="19" fill="#131521"/>
<text x="63.0" y="1780.3" font-size="14" fill="#00f000" textLength="15.1" lengthAdjust="spacingAndGlyphs" stroke="#131521" stroke-width="0.25">98</text>
<rect x="77" y="1778" width="18" height="19" fill="#131521"/>
<text x="78.0" y="1793.3" font-size="14" fill="#009400" textLength="15.1" lengthAdjust="spacingAndGlyphs" stroke="#131521" stroke-width="0.25">55</text>
<rect x="92" y="1783" width="18" height="19" fill="#131521"/>
<text x="93.0" y="1798.4" font-size="14" fill="#009400" textLength="15.1" lengthAdjust="spacingAndGlyphs" stroke="#131521" stroke-width="0.25">44</text>
<rect x="103" y="1761" width="26" height="19" fill="#131521"/>
<text x="104.2" y="1776.5" font-size="14" fill="#00f000" textLength="22.6" lengthAdjust="spacingAndGlyphs" stroke="#131521" stroke-width="0.25">116</text>
<rect x="118" y="1764" width="26" height="19" fill="#131521"/>
<text x="119.2" y="1779.0" font-size="14" fill="#009400" textLength="22.6" lengthAdjust="spacingAndGlyphs" stroke="#131521" stroke-width="0.25">104</text>
<rect x="133" y="1762" width="26" height="19" fill="#131521"/>
<text x="134.2" y="1777.1" font-size="14" fill="#00f000" textLength="22.6" lengthAdjust="spacingAndGlyphs" stroke="#131521" stroke-width="0.25">113</text>
<rect x="152" y="1768" width="18" height="19" fill="#131521"/>
<text x="152.9" y="1783.5" font-size="14" fill="#009400" textLength="15.1" lengthAdjust="spacingAndGlyphs" stroke="#131521" stroke-width="0.25">85</text>
<rect x="167" y="1772" width="18" height="19" fill="#131521"/>
<text x="167.9" y="1787.6" font-size="14" fill="#009400" textLength="15.1" lengthAdjust="spacingAndGlyphs" stroke="#131521" stroke-width="0.25">71</text>
<rect x="182" y="1793" width="18" height="19" fill="#131521"/>
<text x="182.9" y="1808.6" font-size="14" fill="#009400" textLength="15.1" lengthAdjust="spacingAndGlyphs" stroke="#131521" stroke-width="0.25">28</text>
<rect x="197" y="1787" width="18" height="19" fill="#131521"/>
<text x="197.9" y="1802.3" font-size="14" fill="#00f000" textLength="15.1" lengthAdjust="spacingAndGlyphs" stroke="#131521" stroke-width="0.25">37</text>
<rect x="212" y="1775" width="18" height="19" fill="#131521"/>
<text x="212.9" y="1790.6" font-size="14" fill="#00f000" textLength="15.1" lengthAdjust="spacingAndGlyphs" stroke="#131521" stroke-width="0.25">62</text>
<rect x="223" y="1757" width="26" height="19" fill="#131521"/>
<text x="224.2" y="1772.7" font-size="14" fill="#00f000" textLength="22.6" lengthAdjust="spacingAndGlyphs" stroke="#131521" stroke-width="0.25">137</text>
<rect x="238" y="1743" width="26" height="19" fill="#131521"/>
<text x="239.2" y="1758.0" font-size="14" fill="#00f000" textLength="22.6" lengthAdjust="spacingAndGlyphs" stroke="#131521" stroke-width="0.25">263</text>
<rect x="253" y="1764" width="26" height="19" fill="#131521"/>
<text x="254.2" y="1779.6" font-size="14" fill="#009400" textLength="22.6" lengthAdjust="spacingAndGlyphs" stroke="#131521" stroke-width="0.25">101</text>
<rect x="268" y="1761" width="26" height="19" fill="#131521"/>
<text x="269.2" y="1775.9" font-size="14" fill="#00f000" textLength="22.6" lengthAdjust="spacingAndGlyphs" stroke="#131521" stroke-width="0.25">119</text>
<rect x="283" y="1760" width="26" height="19" fill="#131521"/>
<text x="284.2" y="1775.4" font-size="14" fill="#00f000" textLength="22.6" lengthAdjust="spacingAndGlyphs" stroke="#131521" stroke-width="0.25">122</text>
<rect x="298" y="1764" width="26" height="19" fill="#131521"/>
<text x="299.2" y="1779.2" font-size="14" fill="#009400" textLength="22.6" lengthAdjust="spacingAndGlyphs" stroke="#131521" stroke-width="0.25">103</text>
<rect x="313" y="1757" width="26" height="19" fill="#131521"/>
<text x="314.2" y="1772.7" font-size="14" fill="#00f000" textLength="22.6" lengthAdjust="spacingAndGlyphs" stroke="#131521" stroke-width="0.25">137</text>
<rect x="328" y="1736" width="26" height="19" fill="#131521"/>
<text x="329.2" y="1750.8" font-size="14" fill="#00f000" textLength="22.6" lengthAdjust="spacingAndGlyphs" stroke="#131521" stroke-width="0.25">362</text>
<rect x="343" y="1741" width="26" height="19" fill="#131521"/>
<text x="344.2" y="1755.8" font-size="14" fill="#009400" textLength="22.6" lengthAdjust="spacingAndGlyphs" stroke="#131521" stroke-width="0.25">290</text>
<rect x="358" y="1755" width="26" height="19" fill="#131521"/>
<text x="359.2" y="1770.4" font-size="14" fill="#009400" textLength="22.6" lengthAdjust="spacingAndGlyphs" stroke="#131521" stroke-width="0.25">152</text>
<rect x="373" y="1764" width="26" height="19" fill="#131521"/>
<text x="374.2" y="1779.2" font-size="14" fill="#009400" textLength="22.6" lengthAdjust="spacingAndGlyphs" stroke="#131521" stroke-width="0.25">103</text>
<rect x="392" y="1776" width="18" height="19" fill="#131521"/>
<text x="392.9" y="1791.0" font-size="14" fill="#009400" textLength="15.1" lengthAdjust="spacingAndGlyphs" stroke="#131521" stroke-width="0.25">61</text>
<rect x="407" y="1768" width="18" height="19" fill="#131521"/>
<text x="407.9" y="1783.8" font-size="14" fill="#00f000" textLength="15.1" lengthAdjust="spacingAndGlyphs" stroke="#131521" stroke-width="0.25">84</text>
<rect x="422" y="1780" width="18" height="19" fill="#131521"/>
<text x="422.9" y="1795.5" font-size="14" fill="#009400" textLength="15.1" lengthAdjust="spacingAndGlyphs" stroke="#131521" stroke-width="0.25">50</text>
<rect x="437" y="1787" width="18" height="19" fill="#131521"/>
<text x="437.9" y="1802.3" font-size="14" fill="#009400" textLength="15.1" lengthAdjust="spacingAndGlyphs" stroke="#131521" stroke-width="0.25">37</text>
<rect x="452" y="1778" width="18" height="19" fill="#131521"/>
<text x="452.9" y="1792.9" font-size="14" fill="#00f000" textLength="15.1" lengthAdjust="spacingAndGlyphs" stroke="#131521" stroke-width="0.25">56</text>
<rect x="463" y="1763" width="26" height="19" fill="#131521"/>
<text x="464.2" y="1778.7" font-size="14" fill="#00f000" textLength="22.6" lengthAdjust="spacingAndGlyphs" stroke="#131521" stroke-width="0.25">105</text>
<rect x="482" y="1776" width="18" height="19" fill="#131521"/>
<text x="482.9" y="1791.4" font-size="14" fill="#009400" textLength="15.1" lengthAdjust="spacingAndGlyphs" stroke="#131521" stroke-width="0.25">60</text>
<rect x="497" y="1770" width="18" height="19" fill="#131521"/>
<text x="497.9" y="1784.9" font-size="14" fill="#00f000" textLength="15.1" lengthAdjust="spacingAndGlyphs" stroke="#131521" stroke-width="0.25">80</text>
<rect x="512" y="1776" width="18" height="19" fill="#131521"/>
<text x="513.0" y="1791.4" font-size="14" fill="#009400" textLength="15.1" lengthAdjust="spacingAndGlyphs" stroke="#131521" stroke-width="0.25">60</text>
<rect x="527" y="1774" width="18" height="19" fill="#131521"/>
<text x="528.0" y="1789.2" font-size="14" fill="#00f000" textLength="15.1" lengthAdjust="spacingAndGlyphs" stroke="#131521" stroke-width="0.25">66</text>
<rect x="538" y="1764" width="26" height="19" fill="#131521"/>
<text x="539.2" y="1779.4" font-size="14" fill="#00f000" textLength="22.6" lengthAdjust="spacingAndGlyphs" stroke="#131521" stroke-width="0.25">102</text>
<rect x="553" y="1745" width="26" height="19" fill="#131521"/>
<text x="554.2" y="1760.0" font-size="14" fill="#00f000" textLength="22.6" lengthAdjust="spacingAndGlyphs" stroke="#131521" stroke-width="0.25">241</text>
<rect x="568" y="1752" width="26" height="19" fill="#131521"/>
<text x="569.2" y="1766.8" font-size="14" fill="#009400" textLength="22.6" lengthAdjust="spacingAndGlyphs" stroke="#131521" stroke-width="0.25">178</text>
<rect x="583" y="1745" width="26" height="19" fill="#131521"/>
<text x="584.2" y="1760.5" font-size="14" fill="#00f000" textLength="22.6" lengthAdjust="spacingAndGlyphs" stroke="#131521" stroke-width="0.25">236</text>
<rect x="598" y="1746" width="26" height="19" fill="#131521"/>
<text x="599.2" y="1760.9" font-size="14" fill="#009400" textLength="22.6" lengthAdjust="spacingAndGlyphs" stroke="#131521" stroke-width="0.25">232</text>
<rect x="613" y="1744" width="26" height="19" fill="#131521"/>
<text x="614.2" y="1759.4" font-size="14" fill="#00f000" textLength="22.6" lengthAdjust="spacingAndGlyphs" stroke="#131521" stroke-width="0.25">247</text>
<rect x="628" y="1747" width="26" height="19" fill="#131521"/>
<text x="629.2" y="1762.3" font-size="14" fill="#009400" textLength="22.6" lengthAdjust="spacingAndGlyphs" stroke="#131521" stroke-width="0.25">218</text>
<rect x="643" y="1748" width="26" height="19" fill="#131521"/>
<text x="644.2" y="1763.5" font-size="14" fill="#009400" textLength="22.6" lengthAdjust="spacingAndGlyphs" stroke="#131521" stroke-width="0.25">206</text>
<rect x="658" y="1746" width="26" height="19" fill="#131521"/>
<text x="659.2" y="1761.2" font-size="14" fill="#00f000" textLength="22.6" lengthAdjust="spacingAndGlyphs" stroke="#131521" stroke-width="0.25">228</text>
<rect x="673" y="1747" width="26" height="19" fill="#131521"/>
<text x="674.2" y="1762.6" font-size="14" fill="#009400" textLength="22.6" lengthAdjust="spacingAndGlyphs" stroke="#131521" stroke-width="0.25">215</text>
<rect x="688" y="1743" width="26" height="19" fill="#131521"/>
<text x="689.2" y="1758.4" font-size="14" fill="#00f000" textLength="22.6" lengthAdjust="spacingAndGlyphs" stroke="#131521" stroke-width="0.25">259</text>
<rect x="703" y="1760" width="26" height="19" fill="#131521"/>
<text x="704.2" y="1775.5" font-size="14" fill="#009400" textLength="22.6" lengthAdjust="spacingAndGlyphs" stroke="#131521" stroke-width="0.25">121</text>
<rect x="718" y="1762" width="26" height="19" fill="#131521"/>
<text x="719.2" y="1777.7" font-size="14" fill="#009400" textLength="22.6" lengthAdjust="spacingAndGlyphs" stroke="#131521" stroke-width="0.25">110</text>
<rect x="737" y="1775" width="18" height="19" fill="#131521"/>
<text x="738.0" y="1790.3" font-size="14" fill="#009400" textLength="15.1" lengthAdjust="spacingAndGlyphs" stroke="#131521" stroke-width="0.25">63</text>
<rect x="748" y="1761" width="26" height="19" fill="#131521"/>
<text x="749.2" y="1776.7" font-size="14" fill="#00f000" textLength="22.6" lengthAdjust="spacingAndGlyphs" stroke="#131521" stroke-width="0.25">115</text>
<rect x="767" y="1782" width="18" height="19" fill="#131521"/>
<text x="768.0" y="1796.9" font-size="14" fill="#009400" textLength="15.1" lengthAdjust="spacingAndGlyphs" stroke="#131521" stroke-width="0.25">47</text>
<rect x="782" y="1768" width="18" height="19" fill="#131521"/>
<text x="783.0" y="1783.0" font-size="14" fill="#00f000" textLength="15.1" lengthAdjust="spacingAndGlyphs" stroke="#131521" stroke-width="0.25">87</text>
<rect x="793" y="1747" width="26" height="19" fill="#131521"/>
<text x="794.2" y="1762.6" font-size="14" fill="#00f000" textLength="22.6" lengthAdjust="spacingAndGlyphs" stroke="#131521" stroke-width="0.25">215</text>
<rect x="808" y="1737" width="26" height="19" fill="#131521"/>
<text x="809.2" y="1751.9" font-size="14" fill="#00f000" textLength="22.6" lengthAdjust="spacingAndGlyphs" stroke="#131521" stroke-width="0.25">345</text>
<rect x="823" y="1745" width="26" height="19" fill="#131521"/>
<text x="824.2" y="1759.8" font-size="14" fill="#009400" textLength="22.6" lengthAdjust="spacingAndGlyphs" stroke="#131521" stroke-width="0.25">243</text>
<rect x="838" y="1739" width="26" height="19" fill="#131521"/>
<text x="839.2" y="1754.5" font-size="14" fill="#00f000" textLength="22.6" lengthAdjust="spacingAndGlyphs" stroke="#131521" stroke-width="0.25">308</text>
<rect x="853" y="1750" width="26" height="19" fill="#131521"/>
<text x="854.2" y="1765.2" font-size="14" fill="#009400" textLength="22.6" lengthAdjust="spacingAndGlyphs" stroke="#131521" stroke-width="0.25">191</text>
<rect x="872" y="1783" width="18" height="19" fill="#131521"/>
<text x="873.0" y="1797.9" font-size="14" fill="#009400" textLength="15.1" lengthAdjust="spacingAndGlyphs" stroke="#131521" stroke-width="0.25">45</text>
<rect x="887" y="1769" width="18" height="19" fill="#131521"/>
<text x="888.0" y="1784.1" font-size="14" fill="#00f000" textLength="15.1" lengthAdjust="spacingAndGlyphs" stroke="#131521" stroke-width="0.25">83</text>
<rect x="902" y="1778" width="18" height="19" fill="#131521"/>
<text x="903.0" y="1793.3" font-size="14" fill="#009400" textLength="15.1" lengthAdjust="spacingAndGlyphs" stroke="#131521" stroke-width="0.25">55</text>
<rect x="913" y="1747" width="26" height="19" fill="#131521"/>
<text x="914.2" y="1761.8" font-size="14" fill="#00f000" textLength="22.6" lengthAdjust="spacingAndGlyphs" stroke="#131521" stroke-width="0.25">222</text>
<rect x="928" y="1741" width="26" height="19" fill="#131521"/>
<text x="929.2" y="1756.4" font-size="14" fill="#00f000" textLength="22.6" lengthAdjust="spacingAndGlyphs" stroke="#131521" stroke-width="0.25">282</text>
<rect x="943" y="1762" width="26" height="19" fill="#131521"/>
<text x="944.2" y="1777.1" font-size="14" fill="#009400" textLength="22.6" lengthAdjust="spacingAndGlyphs" stroke="#131521" stroke-width="0.25">113</text>
<rect x="958" y="1754" width="26" height="19" fill="#131521"/>
<text x="959.2" y="1769.7" font-size="14" fill="#00f000" textLength="22.6" lengthAdjust="spacingAndGlyphs" stroke="#131521" stroke-width="0.25">157</text>
<rect x="973" y="1763" width="26" height="19" fill="#131521"/>
<text x="974.2" y="1778.7" font-size="14" fill="#009400" textLength="22.6" lengthAdjust="spacingAndGlyphs" stroke="#131521" stroke-width="0.25">105</text>
<rect x="988" y="1753" width="26" height="19" fill="#131521"/>
<text x="989.2" y="1768.4" font-size="14" fill="#00f000" textLength="22.6" lengthAdjust="spacingAndGlyphs" stroke="#131521" stroke-width="0.25">166</text>
<rect x="1003" y="1745" width="26" height="19" fill="#131521"/>
<text x="1004.2" y="1760.7" font-size="14" fill="#00f000" textLength="22.6" lengthAdjust="spacingAndGlyphs" stroke="#131521" stroke-width="0.25">234</text>
<rect x="1018" y="1755" width="26" height="19" fill="#131521"/>
<text x="1019.2" y="1770.0" font-size="14" fill="#009400" textLength="22.6" lengthAdjust="spacingAndGlyphs" stroke="#131521" stroke-width="0.25">155</text>
<rect x="1033" y="1748" width="26" height="19" fill="#131521"/>
<text x="1034.2" y="1762.9" font-size="14" fill="#00f000" textLength="22.6" lengthAdjust="spacingAndGlyphs" stroke="#131521" stroke-width="0.25">212</text>
<rect x="1048" y="1734" width="26" height="19" fill="#131521"/>
<text x="1049.2" y="1748.8" font-size="14" fill="#00f000" textLength="22.6" lengthAdjust="spacingAndGlyphs" stroke="#131521" stroke-width="0.25">395</text>
<rect x="1063" y="1742" width="26" height="19" fill="#131521"/>
<text x="1064.2" y="1757.0" font-size="14" fill="#009400" textLength="22.6" lengthAdjust="spacingAndGlyphs" stroke="#131521" stroke-width="0.25">275</text>
<rect x="1078" y="1764" width="26" height="19" fill="#131521"/>
<text x="1079.2" y="1779.0" font-size="14" fill="#009400" textLength="22.6" lengthAdjust="spacingAndGlyphs" stroke="#131521" stroke-width="0.25">104</text>
<rect x="1093" y="1760" width="26" height="19" fill="#131521"/>
<text x="1094.2" y="1775.2" font-size="14" fill="#00f000" textLength="22.6" lengthAdjust="spacingAndGlyphs" stroke="#131521" stroke-width="0.25">123</text>
<rect x="1108" y="1758" width="26" height="19" fill="#131521"/>
<text x="1109.2" y="1773.4" font-size="14" fill="#00f000" textLength="22.6" lengthAdjust="spacingAndGlyphs" stroke="#131521" stroke-width="0.25">133</text>
<rect x="1127" y="1778" width="18" height="19" fill="#131521"/>
<text x="1128.0" y="1792.9" font-size="14" fill="#009400" textLength="15.1" lengthAdjust="spacingAndGlyphs" stroke="#131521" stroke-width="0.25">56</text>
<rect x="1142" y="1769" width="18" height="19" fill="#131521"/>
<text x="1143.0" y="1784.6" font-size="14" fill="#00f000" textLength="15.1" lengthAdjust="spacingAndGlyphs" stroke="#131521" stroke-width="0.25">81</text>
<rect x="1153" y="1761" width="26" height="19" fill="#131521"/>
<text x="1154.2" y="1775.9" font-size="14" fill="#00f000" textLength="22.6" lengthAdjust="spacingAndGlyphs" stroke="#131521" stroke-width="0.25">119</text>
<rect x="1168" y="1763" width="26" height="19" fill="#131521"/>
<text x="1169.2" y="1777.9" font-size="14" fill="#009400" textLength="22.6" lengthAdjust="spacingAndGlyphs" stroke="#131521" stroke-width="0.25">109</text>
<rect x="1187" y="1771" width="18" height="19" fill="#131521"/>
<text x="1188.0" y="1786.0" font-size="14" fill="#009400" textLength="15.1" lengthAdjust="spacingAndGlyphs" stroke="#131521" stroke-width="0.25">76</text>
<rect x="1202" y="1781" width="18" height="19" fill="#131521"/>
<text x="1203.0" y="1796.4" font-size="14" fill="#009400" textLength="15.1" lengthAdjust="spacingAndGlyphs" stroke="#131521" stroke-width="0.25">48</text>
<rect x="1217" y="1781" width="18" height="19" fill="#131521"/>
<text x="1218.0" y="1796.4" font-size="14" fill="#009400" textLength="15.1" lengthAdjust="spacingAndGlyphs" stroke="#131521" stroke-width="0.25">48</text>
<rect x="1232" y="1767" width="18" height="19" fill="#131521"/>
<text x="1233.0" y="1782.7" font-size="14" fill="#00f000" textLength="15.1" lengthAdjust="spacingAndGlyphs" stroke="#131521" stroke-width="0.25">88</text>
<rect x="1247" y="1774" width="18" height="19" fill="#131521"/>
<text x="1248.0" y="1789.6" font-size="14" fill="#009400" textLength="15.1" lengthAdjust="spacingAndGlyphs" stroke="#131521" stroke-width="0.25">65</text>
<rect x="1258" y="1764" width="26" height="19" fill="#131521"/>
<text x="1259.2" y="1779.0" font-size="14" fill="#00f000" textLength="22.6" lengthAdjust="spacingAndGlyphs" stroke="#131521" stroke-width="0.25">104</text>
<rect x="1273" y="1758" width="26" height="19" fill="#131521"/>
<text x="1274.2" y="1773.4" font-size="14" fill="#00f000" textLength="22.6" lengthAdjust="spacingAndGlyphs" stroke="#131521" stroke-width="0.25">133</text>
<rect x="1288" y="1754" width="26" height="19" fill="#131521"/>
<text x="1289.2" y="1768.8" font-size="14" fill="#00f000" textLength="22.6" lengthAdjust="spacingAndGlyphs" stroke="#131521" stroke-width="0.25">163</text>
<rect x="1307" y="1770" width="18" height="19" fill="#131521"/>
<text x="1308.0" y="1785.5" font-size="14" fill="#009400" textLength="15.1" lengthAdjust="spacingAndGlyphs" stroke="#131521" stroke-width="0.25">78</text>
<rect x="1322" y="1771" width="18" height="19" fill="#131521"/>
<text x="1323.0" y="1786.0" font-size="14" fill="#009400" textLength="15.1" lengthAdjust="spacingAndGlyphs" stroke="#131521" stroke-width="0.25">76</text>
<rect x="1333" y="1761" width="26" height="19" fill="#131521"/>
<text x="1334.2" y="1776.7" font-size="14" fill="#00f000" textLength="22.6" lengthAdjust="spacingAndGlyphs" stroke="#131521" stroke-width="0.25">115</text>
<rect x="1348" y="1762" width="26" height="19" fill="#131521"/>
<text x="1349.2" y="1777.3" font-size="14" fill="#009400" textLength="22.6" lengthAdjust="spacingAndGlyphs" stroke="#131521" stroke-width="0.25">112</text>
<rect x="1363" y="1758" width="26" height="19" fill="#131521"/>
<text x="1364.2" y="1772.9" font-size="14" fill="#00f000" textLength="22.6" lengthAdjust="spacingAndGlyphs" stroke="#131521" stroke-width="0.25">136</text>
<rect x="1378" y="1750" width="26" height="19" fill="#131521"/>
<text x="1379.2" y="1765.7" font-size="14" fill="#00f000" textLength="22.6" lengthAdjust="spacingAndGlyphs" stroke="#131521" stroke-width="0.25">187</text>
<rect x="1393" y="1760" width="26" height="19" fill="#131521"/>
<text x="1394.2" y="1775.7" font-size="14" fill="#009400" textLength="22.6" lengthAdjust="spacingAndGlyphs" stroke="#131521" stroke-width="0.25">120</text>
<rect x="1412" y="1769" width="18" height="19" fill="#131521"/>
<text x="1413.0" y="1784.1" font-size="14" fill="#009400" textLength="15.1" lengthAdjust="spacingAndGlyphs" stroke="#131521" stroke-width="0.25">83</text>
<rect x="1427" y="1768" width="18" height="19" fill="#131521"/>
<text x="1428.0" y="1783.3" font-size="14" fill="#00f000" textLength="15.1" lengthAdjust="spacingAndGlyphs" stroke="#131521" stroke-width="0.25">86</text>
<rect x="1438" y="1764" width="26" height="19" fill="#131521"/>
<text x="1439.2" y="1779.0" font-size="14" fill="#00f000" textLength="22.6" lengthAdjust="spacingAndGlyphs" stroke="#131521" stroke-width="0.25">104</text>
<rect x="1457" y="1783" width="18" height="19" fill="#131521"/>
<text x="1458.0" y="1798.4" font-size="14" fill="#009400" textLength="15.1" lengthAdjust="spacingAndGlyphs" stroke="#131521" stroke-width="0.25">44</text>
<rect x="1472" y="1794" width="18" height="19" fill="#131521"/>
<text x="1473.0" y="1809.4" font-size="14" fill="#009400" textLength="15.1" lengthAdjust="spacingAndGlyphs" stroke="#131521" stroke-width="0.25">27</text>
<rect x="1487" y="1780" width="18" height="19" fill="#131521"/>
<text x="1488.0" y="1795.5" font-size="14" fill="#00f000" textLength="15.1" lengthAdjust="spacingAndGlyphs" stroke="#131521" stroke-width="0.25">50</text>
<rect x="1498" y="1745" width="26" height="19" fill="#131521"/>
<text x="1499.2" y="1760.5" font-size="14" fill="#00f000" textLength="22.6" lengthAdjust="spacingAndGlyphs" stroke="#131521" stroke-width="0.25">236</text>
<rect x="1517" y="1769" width="18" height="19" fill="#131521"/>
<text x="1518.0" y="1784.6" font-size="14" fill="#009400" textLength="15.1" lengthAdjust="spacingAndGlyphs" stroke="#131521" stroke-width="0.25">81</text>
<rect x="1532" y="1781" width="18" height="19" fill="#131521"/>
<text x="1533.0" y="1795.9" font-size="14" fill="#009400" textLength="15.1" lengthAdjust="spacingAndGlyphs" stroke="#131521" stroke-width="0.25">49</text>
<rect x="1547" y="1776" width="18" height="19" fill="#131521"/>
<text x="1548.0" y="1791.8" font-size="14" fill="#00f000" textLength="15.1" lengthAdjust="spacingAndGlyphs" stroke="#131521" stroke-width="0.25">59</text>
<rect x="1558" y="1760" width="26" height="19" fill="#131521"/>
<text x="1559.2" y="1775.4" font-size="14" fill="#00f000" textLength="22.6" lengthAdjust="spacingAndGlyphs" stroke="#131521" stroke-width="0.25">122</text>
<rect x="1577" y="1766" width="18" height="19" fill="#131521"/>
<text x="1578.0" y="1781.2" font-size="14" fill="#009400" textLength="15.1" lengthAdjust="spacingAndGlyphs" stroke="#131521" stroke-width="0.25">94</text>
<rect x="1592" y="1767" width="18" height="19" fill="#131521"/>
<text x="1593.0" y="1782.2" font-size="14" fill="#009400" textLength="15.1" lengthAdjust="spacingAndGlyphs" stroke="#131521" stroke-width="0.25">90</text>
<rect x="1603" y="1757" width="26" height="19" fill="#131521"/>
<text x="1604.2" y="1772.6" font-size="14" fill="#00f000" textLength="22.6" lengthAdjust="spacingAndGlyphs" stroke="#131521" stroke-width="0.25">138</text>
<rect x="1618" y="1755" width="26" height="19" fill="#131521"/>
<text x="1619.2" y="1770.2" font-size="14" fill="#00f000" textLength="22.6" lengthAdjust="spacingAndGlyphs" stroke="#131521" stroke-width="0.25">153</text>
<rect x="1637" y="1768" width="18" height="19" fill="#131521"/>
<text x="1638.0" y="1783.3" font-size="14" fill="#009400" textLength="15.1" lengthAdjust="spacingAndGlyphs" stroke="#131521" stroke-width="0.25">86</text>
<rect x="1652" y="1774" width="18" height="19" fill="#131521"/>
<text x="1653.0" y="1789.2" font-size="14" fill="#009400" textLength="15.1" lengthAdjust="spacingAndGlyphs" stroke="#131521" stroke-width="0.25">66</text>
<rect x="1663" y="1761" width="26" height="19" fill="#131521"/>
<text x="1664.2" y="1776.5" font-size="14" fill="#00f000" textLength="22.6" lengthAdjust="spacingAndGlyphs" stroke="#131521" stroke-width="0.25">116</text>
<rect x="1682" y="1765" width="18" height="19" fill="#131521"/>
<text x="1683.0" y="1780.3" font-size="14" fill="#009400" textLength="15.1" lengthAdjust="spacingAndGlyphs" stroke="#131521" stroke-width="0.25">98</text>
<rect x="1693" y="1737" width="26" height="19" fill="#131521"/>
<text x="1694.2" y="1752.0" font-size="14" fill="#00f000" textLength="22.6" lengthAdjust="spacingAndGlyphs" stroke="#131521" stroke-width="0.25">344</text>
<rect x="1708" y="1751" width="26" height="19" fill="#131521"/>
<text x="1709.2" y="1765.8" font-size="14" fill="#009400" textLength="22.6" lengthAdjust="spacingAndGlyphs" stroke="#131521" stroke-width="0.25">186</text>
<rect x="1723" y="1737" width="26" height="19" fill="#131521"/>
<text x="1724.2" y="1751.9" font-size="14" fill="#00f000" textLength="22.6" lengthAdjust="spacingAndGlyphs" stroke="#131521" stroke-width="0.25">345</text>
<rect x="1738" y="1749" width="26" height="19" fill="#131521"/>
<text x="1739.2" y="1764.4" font-size="14" fill="#009400" textLength="22.6" lengthAdjust="spacingAndGlyphs" stroke="#131521" stroke-width="0.25">198</text>
<rect x="1753" y="1754" width="26" height="19" fill="#131521"/>
<text x="1754.2" y="1769.1" font-size="14" fill="#009400" textLength="22.6" lengthAdjust="spacingAndGlyphs" stroke="#131521" stroke-width="0.25">161</text>
<rect x="1772" y="1765" width="18" height="19" fill="#131521"/>
<text x="1773.0" y="1780.5" font-size="14" fill="#009400" textLength="15.1" lengthAdjust="spacingAndGlyphs" stroke="#131521" stroke-width="0.25">97</text>
<rect x="1783" y="1758" width="26" height="19" fill="#131521"/>
<text x="1784.2" y="1773.2" font-size="14" fill="#00f000" textLength="22.6" lengthAdjust="spacingAndGlyphs" stroke="#131521" stroke-width="0.25">134</text>
<rect x="1802" y="1769" width="18" height="19" fill="#131521"/>
<text x="1803.0" y="1784.3" font-size="14" fill="#009400" textLength="15.1" lengthAdjust="spacingAndGlyphs" stroke="#131521" stroke-width="0.25">82</text>
<rect x="1817" y="1776" width="18" height="19" fill="#131521"/>
<text x="1818.0" y="1791.4" font-size="14" fill="#009400" textLength="15.1" lengthAdjust="spacingAndGlyphs" stroke="#131521" stroke-width="0.25">60</text>
<rect x="1832" y="1771" width="18" height="19" fill="#131521"/>
<text x="1833.0" y="1786.6" font-size="14" fill="#00f000" textLength="15.1" lengthAdjust="spacingAndGlyphs" stroke="#131521" stroke-width="0.25">74</text>
<rect x="1847" y="1777" width="18" height="19" fill="#131521"/>
<text x="1848.0" y="1792.5" font-size="14" fill="#009400" textLength="15.1" lengthAdjust="spacingAndGlyphs" stroke="#131521" stroke-width="0.25">57</text>
<rect x="1862" y="1766" width="18" height="19" fill="#131521"/>
<text x="1863.0" y="1781.2" font-size="14" fill="#00f000" textLength="15.1" lengthAdjust="spacingAndGlyphs" stroke="#131521" stroke-width="0.25">94</text>
<rect x="1877" y="1768" width="18" height="19" fill="#131521"/>
<text x="1878.0" y="1783.0" font-size="14" fill="#009400" textLength="15.1" lengthAdjust="spacingAndGlyphs" stroke="#131521" stroke-width="0.25">87</text>
<rect x="1892" y="1773" width="18" height="19" fill="#131521"/>
<text x="1893.0" y="1787.9" font-size="14" fill="#009400" textLength="15.1" lengthAdjust="spacingAndGlyphs" stroke="#131521" stroke-width="0.25">70</text>
<rect x="1907" y="1789" width="18" height="19" fill="#131521"/>
<text x="1908.0" y="1804.2" font-size="14" fill="#009400" textLength="15.1" lengthAdjust="spacingAndGlyphs" stroke="#131521" stroke-width="0.25">34</text>
<rect x="1922" y="1783" width="18" height="19" fill="#131521"/>
<text x="1923.0" y="1797.9" font-size="14" fill="#00f000" textLength="15.1" lengthAdjust="spacingAndGlyphs" stroke="#131521" stroke-width="0.25">45</text>
<rect x="1937" y="1787" width="18" height="19" fill="#131521"/>
<text x="1938.0" y="1802.3" font-size="14" fill="#009400" textLength="15.1" lengthAdjust="spacingAndGlyphs" stroke="#131521" stroke-width="0.25">37</text>
<rect x="1952" y="1765" width="18" height="19" fill="#131521"/>
<text x="1953.0" y="1780.3" font-size="14" fill="#00f000" textLength="15.1" lengthAdjust="spacingAndGlyphs" stroke="#131521" stroke-width="0.25">98</text>
<rect x="1963" y="1757" width="26" height="19" fill="#131521"/>
<text x="1964.2" y="1772.7" font-size="14" fill="#00f000" textLength="22.6" lengthAdjust="spacingAndGlyphs" stroke="#131521" stroke-width="0.25">137</text>
<rect x="1978" y="1760" width="26" height="19" fill="#131521"/>
<text x="1979.2" y="1775.0" font-size="14" fill="#009400" textLength="22.6" lengthAdjust="spacingAndGlyphs" stroke="#131521" stroke-width="0.25">124</text>
<rect x="1993" y="1760" width="26" height="19" fill="#131521"/>
<text x="1994.2" y="1775.7" font-size="14" fill="#009400" textLength="22.6" lengthAdjust="spacingAndGlyphs" stroke="#131521" stroke-width="0.25">120</text>
<rect x="2012" y="1769" width="18" height="19" fill="#131521"/>
<text x="2013.0" y="1784.6" font-size="14" fill="#009400" textLength="15.1" lengthAdjust="spacingAndGlyphs" stroke="#131521" stroke-width="0.25">81</text>
<rect x="2027" y="1766" width="18" height="19" fill="#131521"/>
<text x="2028.0" y="1781.0" font-size="14" fill="#00f000" textLength="15.1" lengthAdjust="spacingAndGlyphs" stroke="#131521" stroke-width="0.25">95</text>
<rect x="2038" y="1763" width="26" height="19" fill="#131521"/>
<text x="2039.2" y="1778.5" font-size="14" fill="#00f000" textLength="22.6" lengthAdjust="spacingAndGlyphs" stroke="#131521" stroke-width="0.25">106</text>
<rect x="2053" y="1754" width="26" height="19" fill="#131521"/>
<text x="2054.2" y="1769.0" font-size="14" fill="#00f000" textLength="22.6" lengthAdjust="spacingAndGlyphs" stroke="#131521" stroke-width="0.25">162</text>
<rect x="2068" y="1752" width="26" height="19" fill="#131521"/>
<text x="2069.2" y="1767.0" font-size="14" fill="#00f000" textLength="22.6" lengthAdjust="spacingAndGlyphs" stroke="#131521" stroke-width="0.25">177</text>
<rect x="2083" y="1758" width="26" height="19" fill="#131521"/>
<text x="2084.2" y="1773.1" font-size="14" fill="#009400" textLength="22.6" lengthAdjust="spacingAndGlyphs" stroke="#131521" stroke-width="0.25">135</text>
<rect x="2102" y="1773" width="18" height="19" fill="#131521"/>
<text x="2102.9" y="1788.6" font-size="14" fill="#009400" textLength="15.1" lengthAdjust="spacingAndGlyphs" stroke="#131521" stroke-width="0.25">68</text>
<rect x="2117" y="1781" width="18" height="19" fill="#131521"/>
<text x="2117.9" y="1796.4" font-size="14" fill="#009400" textLength="15.1" lengthAdjust="spacingAndGlyphs" stroke="#131521" stroke-width="0.25">48</text>
<rect x="2132" y="1767" width="18" height="19" fill="#131521"/>
<text x="2132.9" y="1782.5" font-size="14" fill="#00f000" textLength="15.1" lengthAdjust="spacingAndGlyphs" stroke="#131521" stroke-width="0.25">89</text>
<rect x="2147" y="1781" width="18" height="19" fill="#131521"/>
<text x="2147.9" y="1795.9" font-size="14" fill="#009400" textLength="15.1" lengthAdjust="spacingAndGlyphs" stroke="#131521" stroke-width="0.25">49</text>
<rect x="2162" y="1781" width="18" height="19" fill="#131521"/>
<text x="2162.9" y="1796.4" font-size="14" fill="#009400" textLength="15.1" lengthAdjust="spacingAndGlyphs" stroke="#131521" stroke-width="0.25">48</text>
<rect x="2177" y="1786" width="18" height="19" fill="#131521"/>
<text x="2177.9" y="1801.1" font-size="14" fill="#009400" textLength="15.1" lengthAdjust="spacingAndGlyphs" stroke="#131521" stroke-width="0.25">39</text>
<rect x="2192" y="1768" width="18" height="19" fill="#131521"/>
<text x="2192.9" y="1783.0" font-size="14" fill="#00f000" textLength="15.1" lengthAdjust="spacingAndGlyphs" stroke="#131521" stroke-width="0.25">87</text>
<rect x="2203" y="1751" width="26" height="19" fill="#131521"/>
<text x="2204.2" y="1766.2" font-size="14" fill="#00f000" textLength="22.6" lengthAdjust="spacingAndGlyphs" stroke="#131521" stroke-width="0.25">183</text>
<rect x="2218" y="1764" width="26" height="19" fill="#131521"/>
<text x="2219.2" y="1779.2" font-size="14" fill="#009400" textLength="22.6" lengthAdjust="spacingAndGlyphs" stroke="#131521" stroke-width="0.25">103</text>
<rect x="2237" y="1775" width="18" height="19" fill="#131521"/>
<text x="2237.9" y="1790.6" font-size="14" fill="#009400" textLength="15.1" lengthAdjust="spacingAndGlyphs" stroke="#131521" stroke-width="0.25">62</text>
<rect x="2252" y="1783" width="18" height="19" fill="#131521"/>
<text x="2252.9" y="1798.4" font-size="14" fill="#009400" textLength="15.1" lengthAdjust="spacingAndGlyphs" stroke="#131521" stroke-width="0.25">44</text>
<rect x="2267" y="1777" width="18" height="19" fill="#131521"/>
<text x="2267.9" y="1792.5" font-size="14" fill="#00f000" textLength="15.1" lengthAdjust="spacingAndGlyphs" stroke="#131521" stroke-width="0.25">57</text>
<rect x="2282" y="1772" width="18" height="19" fill="#131521"/>
<text x="2282.9" y="1787.0" font-size="14" fill="#00f000" textLength="15.1" lengthAdjust="spacingAndGlyphs" stroke="#131521" stroke-width="0.25">73</text>
<rect x="2297" y="1776" width="18" height="19" fill="#131521"/>
<text x="2297.9" y="1791.4" font-size="14" fill="#009400" textLength="15.1" lengthAdjust="spacingAndGlyphs" stroke="#131521" stroke-width="0.25">60</text>
<rect x="2308" y="1750" width="26" height="19" fill="#131521"/>
<text x="2309.2" y="1765.7" font-size="14" fill="#00f000" textLength="22.6" lengthAdjust="spacingAndGlyphs" stroke="#131521" stroke-width="0.25">187</text>
<rect x="2327" y="1770" width="18" height="19" fill="#131521"/>
<text x="2327.9" y="1785.2" font-size="14" fill="#009400" textLength="15.1" lengthAdjust="spacingAndGlyphs" stroke="#131521" stroke-width="0.25">79</text>
<rect x="2342" y="1770" width="18" height="19" fill="#131521"/>
<text x="2342.9" y="1785.5" font-size="14" fill="#009400" textLength="15.1" lengthAdjust="spacingAndGlyphs" stroke="#131521" stroke-width="0.25">78</text>
<rect x="2353" y="1763" width="26" height="19" fill="#131521"/>
<text x="2354.2" y="1778.3" font-size="14" fill="#00f000" textLength="22.6" lengthAdjust="spacingAndGlyphs" stroke="#131521" stroke-width="0.25">107</text>
<rect x="2372" y="1771" width="18" height="19" fill="#131521"/>
<text x="2372.9" y="1786.3" font-size="14" fill="#009400" textLength="15.1" lengthAdjust="spacingAndGlyphs" stroke="#131521" stroke-width="0.25">75</text>
<rect x="2383" y="1754" width="26" height="19" fill="#131521"/>
<text x="2384.2" y="1769.5" font-size="14" fill="#00f000" textLength="22.6" lengthAdjust="spacingAndGlyphs" stroke="#131521" stroke-width="0.25">158</text>
<rect x="2398" y="1752" width="26" height="19" fill="#131521"/>
<text x="2399.2" y="1766.8" font-size="14" fill="#00f000" textLength="22.6" lengthAdjust="spacingAndGlyphs" stroke="#131521" stroke-width="0.25">178</text>
<rect x="2413" y="1756" width="26" height="19" fill="#131521"/>
<text x="2414.2" y="1771.0" font-size="14" fill="#009400" textLength="22.6" lengthAdjust="spacingAndGlyphs" stroke="#131521" stroke-width="0.25">148</text>
<rect x="2428" y="1763" width="26" height="19" fill="#131521"/>
<text x="2429.2" y="1778.5" font-size="14" fill="#009400" textLength="22.6" lengthAdjust="spacingAndGlyphs" stroke="#131521" stroke-width="0.25">106</text>
<rect x="2447" y="1782" width="18" height="19" fill="#131521"/>
<text x="2447.9" y="1797.4" font-size="14" fill="#009400" textLength="15.1" lengthAdjust="spacingAndGlyphs" stroke="#131521" stroke-width="0.25">46</text>
<rect x="2458" y="1748" width="26" height="19" fill="#131521"/>
<text x="2459.2" y="1763.3" font-size="14" fill="#00f000" textLength="22.6" lengthAdjust="spacingAndGlyphs" stroke="#131521" stroke-width="0.25">208</text>
<rect x="2477" y="1769" width="18" height="19" fill="#131521"/>
<text x="2477.9" y="1784.3" font-size="14" fill="#009400" textLength="15.1" lengthAdjust="spacingAndGlyphs" stroke="#131521" stroke-width="0.25">82</text>
<rect x="2492" y="1780" width="18" height="19" fill="#131521"/>
<text x="2492.9" y="1795.0" font-size="14" fill="#009400" textLength="15.1" lengthAdjust="spacingAndGlyphs" stroke="#131521" stroke-width="0.25">51</text>
<rect x="2507" y="1786" width="18" height="19" fill="#131521"/>
<text x="2507.9" y="1801.7" font-size="14" fill="#009400" textLength="15.1" lengthAdjust="spacingAndGlyphs" stroke="#131521" stroke-width="0.25">38</text>
<rect x="2522" y="1778" width="18" height="19" fill="#131521"/>
<text x="2522.9" y="1793.3" font-size="14" fill="#00f000" textLength="15.1" lengthAdjust="spacingAndGlyphs" stroke="#131521" stroke-width="0.25">55</text>
<rect x="2537" y="1772" width="18" height="19" fill="#131521"/>
<text x="2537.9" y="1787.3" font-size="14" fill="#00f000" textLength="15.1" lengthAdjust="spacingAndGlyphs" stroke="#131521" stroke-width="0.25">72</text>
<rect x="2552" y="1776" width="18" height="19" fill="#131521"/>
<text x="2552.9" y="1791.0" font-size="14" fill="#009400" textLength="15.1" lengthAdjust="spacingAndGlyphs" stroke="#131521" stroke-width="0.25">61</text>
<rect x="2567" y="1783" width="18" height="19" fill="#131521"/>
<text x="2567.9" y="1797.9" font-size="14" fill="#009400" textLength="15.1" lengthAdjust="spacingAndGlyphs" stroke="#131521" stroke-width="0.25">45</text>
<rect x="2582" y="1796" width="18" height="19" fill="#131521"/>
<text x="2582.9" y="1811.1" font-size="14" fill="#009400" textLength="15.1" lengthAdjust="spacingAndGlyphs" stroke="#131521" stroke-width="0.25">25</text>
<rect x="2597" y="1805" width="18" height="19" fill="#131521"/>
<text x="2597.9" y="1819.8" font-size="14" fill="#009400" textLength="15.1" lengthAdjust="spacingAndGlyphs" stroke="#131521" stroke-width="0.25">17</text>
<rect x="2612" y="1791" width="18" height="19" fill="#131521"/>
<text x="2612.9" y="1806.3" font-size="14" fill="#00f000" textLength="15.1" lengthAdjust="spacingAndGlyphs" stroke="#131521" stroke-width="0.25">31</text>
<rect x="2627" y="1776" width="18" height="19" fill="#131521"/>
<text x="2627.9" y="1791.8" font-size="14" fill="#00f000" textLength="15.1" lengthAdjust="spacingAndGlyphs" stroke="#131521" stroke-width="0.25">59</text>
<rect x="2638" y="1763" width="26" height="19" fill="#131521"/>
<text x="2639.2" y="1778.1" font-size="14" fill="#00f000" textLength="22.6" lengthAdjust="spacingAndGlyphs" stroke="#131521" stroke-width="0.25">108</text>
<rect x="2653" y="1759" width="26" height="19" fill="#131521"/>
<text x="2654.2" y="1773.9" font-size="14" fill="#00f000" textLength="22.6" lengthAdjust="spacingAndGlyphs" stroke="#131521" stroke-width="0.25">130</text>
<rect x="2672" y="1790" width="18" height="19" fill="#131521"/>
<text x="2672.9" y="1805.6" font-size="14" fill="#009400" textLength="15.1" lengthAdjust="spacingAndGlyphs" stroke="#131521" stroke-width="0.25">32</text>
</g>
<rect x="0" y="1819" width="48" height="26" fill="#fff"/>
<text x="-9.8" y="1839.0" font-size="19" fill="#101010" textLength="56.6" lengthAdjust="spacingAndGlyphs" stroke="#fff" stroke-width="0.2">20-1-3</text>
<rect x="10" y="1816" width="1" height="3" fill="#fff"/>
<rect x="115" y="1816" width="1" height="3" fill="#fff"/>
<rect x="101" y="1819" width="29" height="26" fill="#fff"/>
<text x="102.5" y="1839.0" font-size="19" fill="#101010" textLength="27.0" lengthAdjust="spacingAndGlyphs" stroke="#fff" stroke-width="0.2">1-6</text>
<rect x="160" y="1816" width="1" height="3" fill="#fff"/>
<text x="143.2" y="1839.0" font-size="19" fill="#fff" textLength="34.6" lengthAdjust="spacingAndGlyphs" stroke="#131521" stroke-width="0.2">4:00</text>
<rect x="220" y="1816" width="1" height="3" fill="#fff"/>
<text x="203.2" y="1839.0" font-size="19" fill="#fff" textLength="34.6" lengthAdjust="spacingAndGlyphs" stroke="#131521" stroke-width="0.2">8:00</text>
<rect x="280" y="1816" width="1" height="3" fill="#fff"/>
<text x="259.2" y="1839.0" font-size="19" fill="#fff" textLength="43.7" lengthAdjust="spacingAndGlyphs" stroke="#131521" stroke-width="0.2">12:00</text>
<rect x="340" y="1816" width="1" height="3" fill="#fff"/>
<text x="319.2" y="1839.0" font-size="19" fill="#fff" textLength="43.7" lengthAdjust="spacingAndGlyphs" stroke="#131521" stroke-width="0.2">16:00</text>
<rect x="400" y="1816" width="1" height="3" fill="#fff"/>
<text x="378.2" y="1839.0" font-size="19" fill="#fff" textLength="44.7" lengthAdjust="spacingAndGlyphs" stroke="#131521" stroke-width="0.2">20:00</text>
<rect x="460" y="1816" width="1" height="3" fill="#fff"/>
<rect x="446" y="1819" width="29" height="26" fill="#fff"/>
<text x="447.5" y="1839.0" font-size="19" fill="#101010" textLength="27.0" lengthAdjust="spacingAndGlyphs" stroke="#fff" stroke-width="0.2">1-7</text>
<rect x="505" y="1816" width="1" height="3" fill="#fff"/>
<text x="488.2" y="1839.0" font-size="19" fill="#fff" textLength="34.6" lengthAdjust="spacingAndGlyphs" stroke="#131521" stroke-width="0.2">4:00</text>
<rect x="565" y="1816" width="1" height="3" fill="#fff"/>
<text x="548.2" y="1839.0" font-size="19" fill="#fff" textLength="34.6" lengthAdjust="spacingAndGlyphs" stroke="#131521" stroke-width="0.2">8:00</text>
<rect x="625" y="1816" width="1" height="3" fill="#fff"/>
<text x="604.2" y="1839.0" font-size="19" fill="#fff" textLength="43.7" lengthAdjust="spacingAndGlyphs" stroke="#131521" stroke-width="0.2">12:00</text>
<rect x="685" y="1816" width="1" height="3" fill="#fff"/>
<text x="664.2" y="1839.0" font-size="19" fill="#fff" textLength="43.7" lengthAdjust="spacingAndGlyphs" stroke="#131521" stroke-width="0.2">16:00</text>
<rect x="745" y="1816" width="1" height="3" fill="#fff"/>
<text x="723.2" y="1839.0" font-size="19" fill="#fff" textLength="44.7" lengthAdjust="spacingAndGlyphs" stroke="#131521" stroke-width="0.2">20:00</text>
<rect x="805" y="1816" width="1" height="3" fill="#fff"/>
<rect x="791" y="1819" width="29" height="26" fill="#fff"/>
<text x="792.5" y="1839.0" font-size="19" fill="#101010" textLength="27.0" lengthAdjust="spacingAndGlyphs" stroke="#fff" stroke-width="0.2">1-8</text>
<rect x="850" y="1816" width="1" height="3" fill="#fff"/>
<text x="833.2" y="1839.0" font-size="19" fill="#fff" textLength="34.6" lengthAdjust="spacingAndGlyphs" stroke="#131521" stroke-width="0.2">4:00</text>
<rect x="910" y="1816" width="1" height="3" fill="#fff"/>
<text x="893.2" y="1839.0" font-size="19" fill="#fff" textLength="34.6" lengthAdjust="spacingAndGlyphs" stroke="#131521" stroke-width="0.2">8:00</text>
<rect x="970" y="1816" width="1" height="3" fill="#fff"/>
<text x="949.2" y="1839.0" font-size="19" fill="#fff" textLength="43.7" lengthAdjust="spacingAndGlyphs" stroke="#131521" stroke-width="0.2">12:00</text>
<rect x="1030" y="1816" width="1" height="3" fill="#fff"/>
<text x="1009.2" y="1839.0" font-size="19" fill="#fff" textLength="43.7" lengthAdjust="spacingAndGlyphs" stroke="#131521" stroke-width="0.2">16:00</text>
<rect x="1090" y="1816" width="1" height="3" fill="#fff"/>
<text x="1068.2" y="1839.0" font-size="19" fill="#fff" textLength="44.7" lengthAdjust="spacingAndGlyphs" stroke="#131521" stroke-width="0.2">20:00</text>
<rect x="1150" y="1816" width="1" height="3" fill="#fff"/>
<rect x="1136" y="1819" width="29" height="26" fill="#fff"/>
<text x="1137.5" y="1839.0" font-size="19" fill="#101010" textLength="27.0" lengthAdjust="spacingAndGlyphs" stroke="#fff" stroke-width="0.2">1-9</text>
<rect x="1195" y="1816" width="1" height="3" fill="#fff"/>
<text x="1178.2" y="1839.0" font-size="19" fill="#fff" textLength="34.6" lengthAdjust="spacingAndGlyphs" stroke="#131521" stroke-width="0.2">4:00</text>
<rect x="1255" y="1816" width="1" height="3" fill="#fff"/>
<text x="1238.2" y="1839.0" font-size="19" fill="#fff" textLength="34.6" lengthAdjust="spacingAndGlyphs" stroke="#131521" stroke-width="0.2">8:00</text>
<rect x="1315" y="1816" width="1" height="3" fill="#fff"/>
<text x="1294.2" y="1839.0" font-size="19" fill="#fff" textLength="43.7" lengthAdjust="spacingAndGlyphs" stroke="#131521" stroke-width="0.2">12:00</text>
<rect x="1375" y="1816" width="1" height="3" fill="#fff"/>
<text x="1354.2" y="1839.0" font-size="19" fill="#fff" textLength="43.7" lengthAdjust="spacingAndGlyphs" stroke="#131521" stroke-width="0.2">16:00</text>
<rect x="1435" y="1816" width="1" height="3" fill="#fff"/>
<text x="1413.2" y="1839.0" font-size="19" fill="#fff" textLength="44.7" lengthAdjust="spacingAndGlyphs" stroke="#131521" stroke-width="0.2">20:00</text>
<rect x="1495" y="1816" width="1" height="3" fill="#fff"/>
<rect x="1476" y="1819" width="39" height="26" fill="#fff"/>
<text x="1477.5" y="1839.0" font-size="19" fill="#101010" textLength="37.1" lengthAdjust="spacingAndGlyphs" stroke="#fff" stroke-width="0.2">1-10</text>
<rect x="1555" y="1816" width="1" height="3" fill="#fff"/>
<text x="1538.2" y="1839.0" font-size="19" fill="#fff" textLength="34.6" lengthAdjust="spacingAndGlyphs" stroke="#131521" stroke-width="0.2">5:00</text>
<rect x="1615" y="1816" width="1" height="3" fill="#fff"/>
<text x="1598.2" y="1839.0" font-size="19" fill="#fff" textLength="34.6" lengthAdjust="spacingAndGlyphs" stroke="#131521" stroke-width="0.2">9:00</text>
<rect x="1675" y="1816" width="1" height="3" fill="#fff"/>
<text x="1654.2" y="1839.0" font-size="19" fill="#fff" textLength="43.7" lengthAdjust="spacingAndGlyphs" stroke="#131521" stroke-width="0.2">13:00</text>
<rect x="1735" y="1816" width="1" height="3" fill="#fff"/>
<text x="1714.2" y="1839.0" font-size="19" fill="#fff" textLength="43.7" lengthAdjust="spacingAndGlyphs" stroke="#131521" stroke-width="0.2">17:00</text>
<rect x="1840" y="1816" width="1" height="3" fill="#fff"/>
<rect x="1821" y="1819" width="39" height="26" fill="#fff"/>
<text x="1822.5" y="1839.0" font-size="19" fill="#101010" textLength="37.1" lengthAdjust="spacingAndGlyphs" stroke="#fff" stroke-width="0.2">1-13</text>
<rect x="1900" y="1816" width="1" height="3" fill="#fff"/>
<text x="1883.2" y="1839.0" font-size="19" fill="#fff" textLength="34.6" lengthAdjust="spacingAndGlyphs" stroke="#131521" stroke-width="0.2">5:00</text>
<rect x="1960" y="1816" width="1" height="3" fill="#fff"/>
<text x="1943.2" y="1839.0" font-size="19" fill="#fff" textLength="34.6" lengthAdjust="spacingAndGlyphs" stroke="#131521" stroke-width="0.2">9:00</text>
<rect x="2020" y="1816" width="1" height="3" fill="#fff"/>
<text x="1999.2" y="1839.0" font-size="19" fill="#fff" textLength="43.7" lengthAdjust="spacingAndGlyphs" stroke="#131521" stroke-width="0.2">13:00</text>
<rect x="2080" y="1816" width="1" height="3" fill="#fff"/>
<text x="2059.2" y="1839.0" font-size="19" fill="#fff" textLength="43.7" lengthAdjust="spacingAndGlyphs" stroke="#131521" stroke-width="0.2">17:00</text>
<rect x="2185" y="1816" width="1" height="3" fill="#fff"/>
<rect x="2166" y="1819" width="39" height="26" fill="#fff"/>
<text x="2167.5" y="1839.0" font-size="19" fill="#101010" textLength="37.0" lengthAdjust="spacingAndGlyphs" stroke="#fff" stroke-width="0.2">1-14</text>
<rect x="2245" y="1816" width="1" height="3" fill="#fff"/>
<text x="2228.2" y="1839.0" font-size="19" fill="#fff" textLength="34.6" lengthAdjust="spacingAndGlyphs" stroke="#131521" stroke-width="0.2">5:00</text>
<rect x="2305" y="1816" width="1" height="3" fill="#fff"/>
<text x="2288.2" y="1839.0" font-size="19" fill="#fff" textLength="34.6" lengthAdjust="spacingAndGlyphs" stroke="#131521" stroke-width="0.2">9:00</text>
<rect x="2365" y="1816" width="1" height="3" fill="#fff"/>
<text x="2344.2" y="1839.0" font-size="19" fill="#fff" textLength="43.7" lengthAdjust="spacingAndGlyphs" stroke="#131521" stroke-width="0.2">13:00</text>
<rect x="2425" y="1816" width="1" height="3" fill="#fff"/>
<text x="2404.2" y="1839.0" font-size="19" fill="#fff" textLength="43.7" lengthAdjust="spacingAndGlyphs" stroke="#131521" stroke-width="0.2">17:00</text>
<rect x="2530" y="1816" width="1" height="3" fill="#fff"/>
<rect x="2511" y="1819" width="39" height="26" fill="#fff"/>
<text x="2512.5" y="1839.0" font-size="19" fill="#101010" textLength="37.0" lengthAdjust="spacingAndGlyphs" stroke="#fff" stroke-width="0.2">1-15</text>
<rect x="2590" y="1816" width="1" height="3" fill="#fff"/>
<text x="2573.2" y="1839.0" font-size="19" fill="#fff" textLength="34.6" lengthAdjust="spacingAndGlyphs" stroke="#131521" stroke-width="0.2">5:00</text>
<rect x="2650" y="1816" width="1" height="3" fill="#fff"/>
<text x="2633.2" y="1839.0" font-size="19" fill="#fff" textLength="34.6" lengthAdjust="spacingAndGlyphs" stroke="#131521" stroke-width="0.2">9:00</text>
<rect x="2710" y="1816" width="1" height="3" fill="#fff"/>
<text x="2689.2" y="1839.0" font-size="19" fill="#fff" textLength="43.7" lengthAdjust="spacingAndGlyphs" stroke="#131521" stroke-width="0.2">13:00</text>
<rect x="2770" y="1816" width="1" height="3" fill="#fff"/>
<text x="2749.2" y="1839.0" font-size="19" fill="#fff" textLength="43.7" lengthAdjust="spacingAndGlyphs" stroke="#131521" stroke-width="0.2">17:00</text>
<rect x="2875" y="1816" width="1" height="3" fill="#fff"/>
<rect x="2856" y="1819" width="39" height="26" fill="#fff"/>
<text x="2857.5" y="1839.0" font-size="19" fill="#101010" textLength="37.0" lengthAdjust="spacingAndGlyphs" stroke="#fff" stroke-width="0.2">1-16</text>
<rect x="2935" y="1816" width="1" height="3" fill="#fff"/>
<text x="2918.2" y="1839.0" font-size="19" fill="#fff" textLength="34.6" lengthAdjust="spacingAndGlyphs" stroke="#131521" stroke-width="0.2">5:00</text>
<rect x="2995" y="1816" width="1" height="3" fill="#fff"/>
<text x="2978.2" y="1839.0" font-size="19" fill="#fff" textLength="34.6" lengthAdjust="spacingAndGlyphs" stroke="#131521" stroke-width="0.2">9:00</text>
<rect x="3055" y="1816" width="1" height="3" fill="#fff"/>
<text x="3034.2" y="1839.0" font-size="19" fill="#fff" textLength="43.7" lengthAdjust="spacingAndGlyphs" stroke="#131521" stroke-width="0.2">13:00</text>
<rect x="3115" y="1816" width="1" height="3" fill="#fff"/>
<text x="3094.2" y="1839.0" font-size="19" fill="#fff" textLength="43.7" lengthAdjust="spacingAndGlyphs" stroke="#131521" stroke-width="0.2">17:00</text>
<rect x="3220" y="1816" width="1" height="3" fill="#fff"/>
<rect x="3201" y="1819" width="39" height="26" fill="#fff"/>
<text x="3202.5" y="1839.0" font-size="19" fill="#101010" textLength="37.0" lengthAdjust="spacingAndGlyphs" stroke="#fff" stroke-width="0.2">1-17</text>
<rect x="3280" y="1816" width="1" height="3" fill="#fff"/>
<text x="3263.2" y="1839.0" font-size="19" fill="#fff" textLength="34.6" lengthAdjust="spacingAndGlyphs" stroke="#131521" stroke-width="0.2">5:00</text>
<rect x="3340" y="1816" width="1" height="3" fill="#fff"/>
<text x="3323.2" y="1839.0" font-size="19" fill="#fff" textLength="34.6" lengthAdjust="spacingAndGlyphs" stroke="#131521" stroke-width="0.2">9:00</text>
<rect x="3400" y="1816" width="1" height="3" fill="#fff"/>
<text x="3379.2" y="1839.0" font-size="19" fill="#fff" textLength="43.7" lengthAdjust="spacingAndGlyphs" stroke="#131521" stroke-width="0.2">13:00</text>
<rect x="3460" y="1816" width="1" height="3" fill="#fff"/>
<text x="3439.2" y="1839.0" font-size="19" fill="#fff" textLength="43.7" lengthAdjust="spacingAndGlyphs" stroke="#131521" stroke-width="0.2">17:00</text>
<rect x="3565" y="1816" width="1" height="3" fill="#fff"/>
<rect x="3546" y="1819" width="39" height="26" fill="#fff"/>
<text x="3547.5" y="1839.0" font-size="19" fill="#101010" textLength="37.0" lengthAdjust="spacingAndGlyphs" stroke="#fff" stroke-width="0.2">1-20</text>
<rect x="3625" y="1816" width="1" height="3" fill="#fff"/>
<text x="3608.2" y="1839.0" font-size="19" fill="#fff" textLength="34.6" lengthAdjust="spacingAndGlyphs" stroke="#131521" stroke-width="0.2">5:00</text>
<rect x="3685" y="1816" width="1" height="3" fill="#fff"/>
<text x="3668.2" y="1839.0" font-size="19" fill="#fff" textLength="34.6" lengthAdjust="spacingAndGlyphs" stroke="#131521" stroke-width="0.2">9:00</text>
<rect x="3777" y="1819" width="31" height="25" fill="#00c800"/>
<text x="3783.9" y="1839.0" font-size="19" fill="#fff" textLength="19.6" lengthAdjust="spacingAndGlyphs" stroke="#00c800" stroke-width="0.2">14</text>
</svg></body></html>
